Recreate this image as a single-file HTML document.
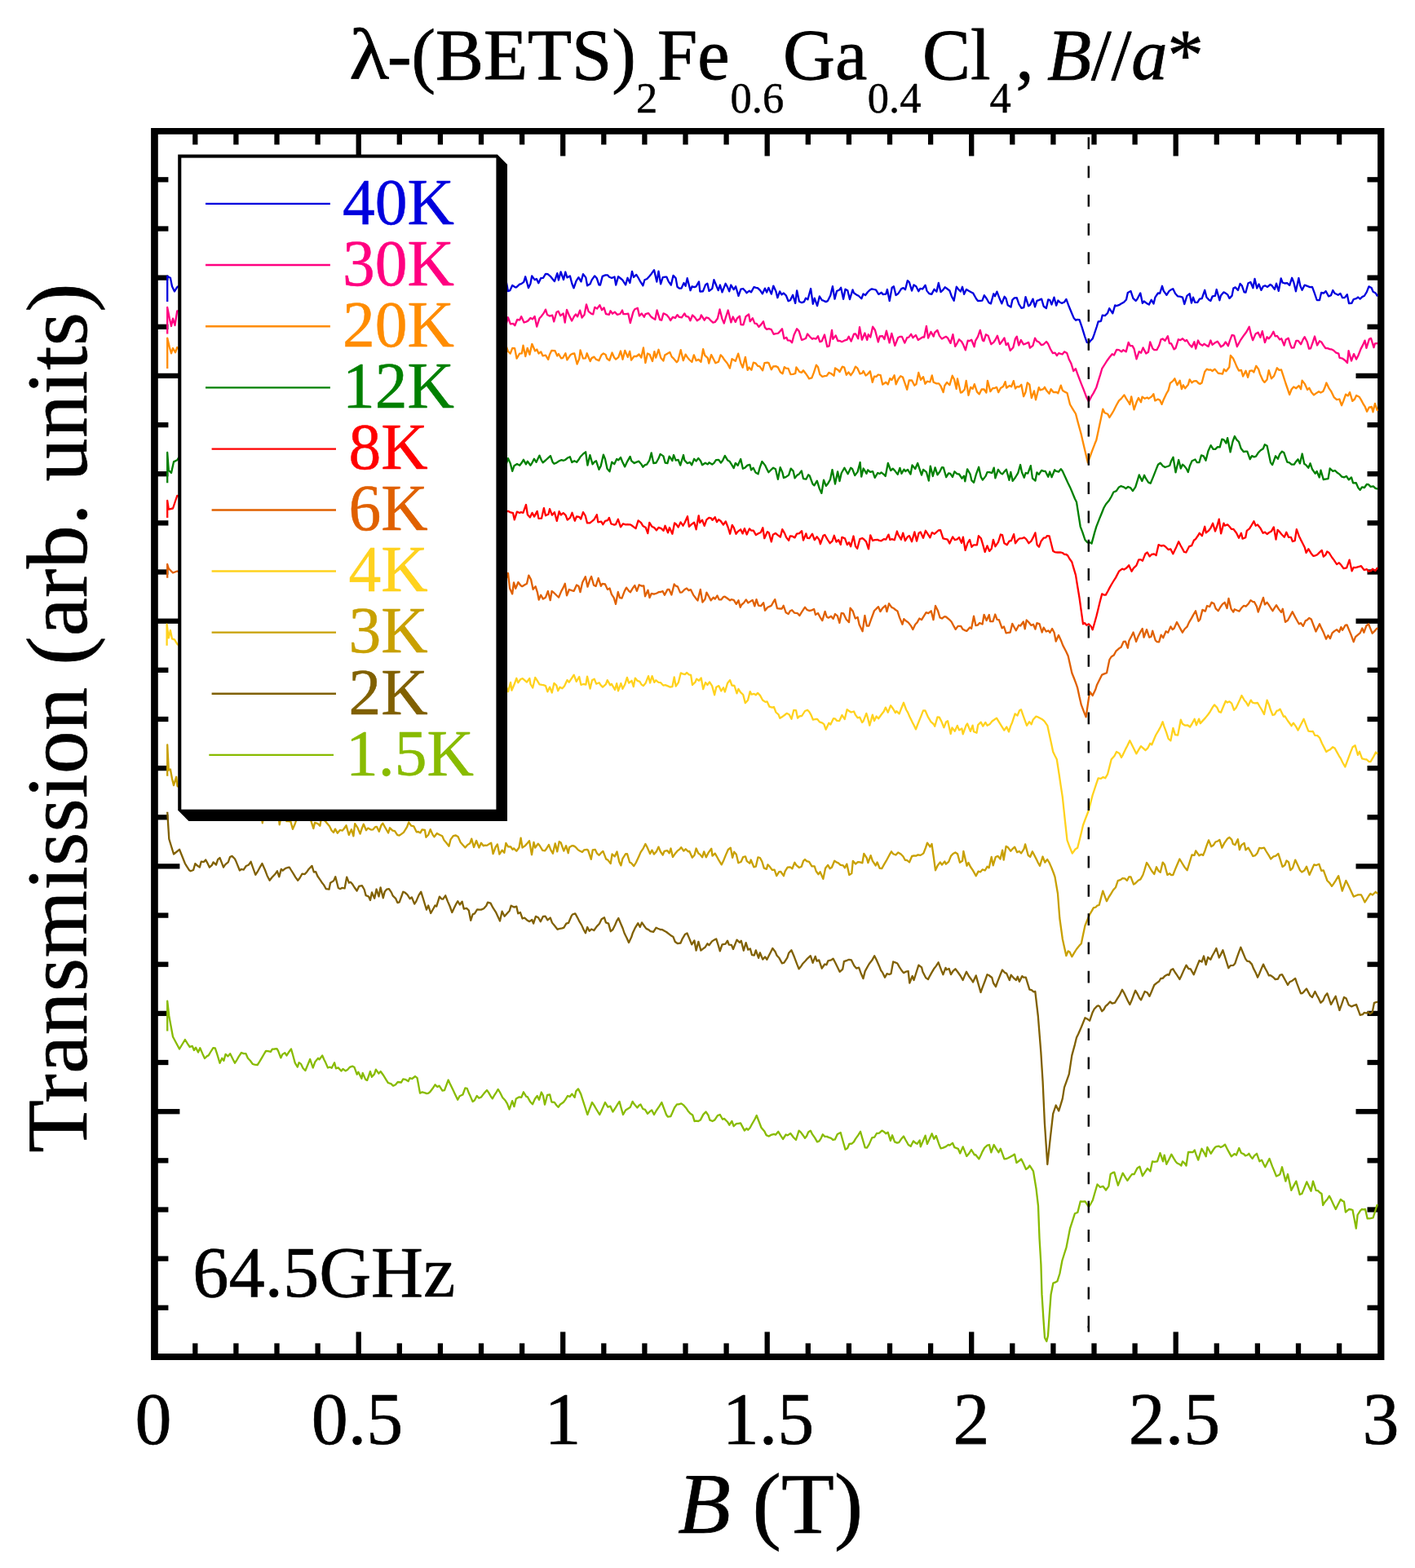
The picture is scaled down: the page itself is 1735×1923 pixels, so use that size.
<!DOCTYPE html>
<html lang="en"><head><meta charset="utf-8"><title>λ-(BETS)2Fe0.6Ga0.4Cl4 transmission</title>
<style>
html,body{margin:0;padding:0;background:#fff;}
body{width:1735px;height:1923px;overflow:hidden;}
svg{display:block;}
text{font-family:"Liberation Serif","Times New Roman",Times,serif;fill:#000;stroke:#000;stroke-width:0.6px;stroke-linejoin:round;}
.i{font-style:italic;}
.tt text{stroke-width:0.8px;}
.tt .sb{stroke-width:0.45px;}
.c{fill:none;stroke-width:2.3;stroke-linejoin:round;stroke-linecap:butt;}
.tk line{stroke:#000;stroke-width:6.3;}
.lg line{stroke-width:2.35;}
.lg text{font-size:79.5px;stroke-width:0.5px;}
.xt text{font-size:90px;text-anchor:middle;}
</style></head><body>
<svg width="1735" height="1923" viewBox="0 0 1735 1923">
<rect x="0" y="0" width="1735" height="1923" fill="#fff"/>
<g class="tk">
<line x1="239.3" y1="163.8" x2="239.3" y2="177.4"/>
<line x1="239.3" y1="1661" x2="239.3" y2="1647.4"/>
<line x1="289.4" y1="163.8" x2="289.4" y2="177.4"/>
<line x1="289.4" y1="1661" x2="289.4" y2="1647.4"/>
<line x1="339.5" y1="163.8" x2="339.5" y2="177.4"/>
<line x1="339.5" y1="1661" x2="339.5" y2="1647.4"/>
<line x1="389.6" y1="163.8" x2="389.6" y2="177.4"/>
<line x1="389.6" y1="1661" x2="389.6" y2="1647.4"/>
<line x1="439.7" y1="163.8" x2="439.7" y2="191.4"/>
<line x1="439.7" y1="1661" x2="439.7" y2="1633.4"/>
<line x1="489.8" y1="163.8" x2="489.8" y2="177.4"/>
<line x1="489.8" y1="1661" x2="489.8" y2="1647.4"/>
<line x1="539.9" y1="163.8" x2="539.9" y2="177.4"/>
<line x1="539.9" y1="1661" x2="539.9" y2="1647.4"/>
<line x1="590" y1="163.8" x2="590" y2="177.4"/>
<line x1="590" y1="1661" x2="590" y2="1647.4"/>
<line x1="640.1" y1="163.8" x2="640.1" y2="177.4"/>
<line x1="640.1" y1="1661" x2="640.1" y2="1647.4"/>
<line x1="690.2" y1="163.8" x2="690.2" y2="191.4"/>
<line x1="690.2" y1="1661" x2="690.2" y2="1633.4"/>
<line x1="740.3" y1="163.8" x2="740.3" y2="177.4"/>
<line x1="740.3" y1="1661" x2="740.3" y2="1647.4"/>
<line x1="790.4" y1="163.8" x2="790.4" y2="177.4"/>
<line x1="790.4" y1="1661" x2="790.4" y2="1647.4"/>
<line x1="840.5" y1="163.8" x2="840.5" y2="177.4"/>
<line x1="840.5" y1="1661" x2="840.5" y2="1647.4"/>
<line x1="890.6" y1="163.8" x2="890.6" y2="177.4"/>
<line x1="890.6" y1="1661" x2="890.6" y2="1647.4"/>
<line x1="940.7" y1="163.8" x2="940.7" y2="191.4"/>
<line x1="940.7" y1="1661" x2="940.7" y2="1633.4"/>
<line x1="990.8" y1="163.8" x2="990.8" y2="177.4"/>
<line x1="990.8" y1="1661" x2="990.8" y2="1647.4"/>
<line x1="1040.9" y1="163.8" x2="1040.9" y2="177.4"/>
<line x1="1040.9" y1="1661" x2="1040.9" y2="1647.4"/>
<line x1="1091" y1="163.8" x2="1091" y2="177.4"/>
<line x1="1091" y1="1661" x2="1091" y2="1647.4"/>
<line x1="1141.1" y1="163.8" x2="1141.1" y2="177.4"/>
<line x1="1141.1" y1="1661" x2="1141.1" y2="1647.4"/>
<line x1="1191.2" y1="163.8" x2="1191.2" y2="191.4"/>
<line x1="1191.2" y1="1661" x2="1191.2" y2="1633.4"/>
<line x1="1241.3" y1="163.8" x2="1241.3" y2="177.4"/>
<line x1="1241.3" y1="1661" x2="1241.3" y2="1647.4"/>
<line x1="1291.4" y1="163.8" x2="1291.4" y2="177.4"/>
<line x1="1291.4" y1="1661" x2="1291.4" y2="1647.4"/>
<line x1="1341.5" y1="163.8" x2="1341.5" y2="177.4"/>
<line x1="1341.5" y1="1661" x2="1341.5" y2="1647.4"/>
<line x1="1391.6" y1="163.8" x2="1391.6" y2="177.4"/>
<line x1="1391.6" y1="1661" x2="1391.6" y2="1647.4"/>
<line x1="1441.7" y1="163.8" x2="1441.7" y2="191.4"/>
<line x1="1441.7" y1="1661" x2="1441.7" y2="1633.4"/>
<line x1="1491.8" y1="163.8" x2="1491.8" y2="177.4"/>
<line x1="1491.8" y1="1661" x2="1491.8" y2="1647.4"/>
<line x1="1541.9" y1="163.8" x2="1541.9" y2="177.4"/>
<line x1="1541.9" y1="1661" x2="1541.9" y2="1647.4"/>
<line x1="1592" y1="163.8" x2="1592" y2="177.4"/>
<line x1="1592" y1="1661" x2="1592" y2="1647.4"/>
<line x1="1642.1" y1="163.8" x2="1642.1" y2="177.4"/>
<line x1="1642.1" y1="1661" x2="1642.1" y2="1647.4"/>
<line x1="192.8" y1="1603.8" x2="206.4" y2="1603.8"/>
<line x1="1690.1" y1="1603.8" x2="1676.5" y2="1603.8"/>
<line x1="192.8" y1="1543.6" x2="206.4" y2="1543.6"/>
<line x1="1690.1" y1="1543.6" x2="1676.5" y2="1543.6"/>
<line x1="192.8" y1="1483.5" x2="206.4" y2="1483.5"/>
<line x1="1690.1" y1="1483.5" x2="1676.5" y2="1483.5"/>
<line x1="192.8" y1="1423.3" x2="206.4" y2="1423.3"/>
<line x1="1690.1" y1="1423.3" x2="1676.5" y2="1423.3"/>
<line x1="192.8" y1="1363.2" x2="220.4" y2="1363.2"/>
<line x1="1690.1" y1="1363.2" x2="1662.5" y2="1363.2"/>
<line x1="192.8" y1="1303" x2="206.4" y2="1303"/>
<line x1="1690.1" y1="1303" x2="1676.5" y2="1303"/>
<line x1="192.8" y1="1242.9" x2="206.4" y2="1242.9"/>
<line x1="1690.1" y1="1242.9" x2="1676.5" y2="1242.9"/>
<line x1="192.8" y1="1182.7" x2="206.4" y2="1182.7"/>
<line x1="1690.1" y1="1182.7" x2="1676.5" y2="1182.7"/>
<line x1="192.8" y1="1122.6" x2="206.4" y2="1122.6"/>
<line x1="1690.1" y1="1122.6" x2="1676.5" y2="1122.6"/>
<line x1="192.8" y1="1062.4" x2="220.4" y2="1062.4"/>
<line x1="1690.1" y1="1062.4" x2="1662.5" y2="1062.4"/>
<line x1="192.8" y1="1002.3" x2="206.4" y2="1002.3"/>
<line x1="1690.1" y1="1002.3" x2="1676.5" y2="1002.3"/>
<line x1="192.8" y1="942.1" x2="206.4" y2="942.1"/>
<line x1="1690.1" y1="942.1" x2="1676.5" y2="942.1"/>
<line x1="192.8" y1="882" x2="206.4" y2="882"/>
<line x1="1690.1" y1="882" x2="1676.5" y2="882"/>
<line x1="192.8" y1="821.8" x2="206.4" y2="821.8"/>
<line x1="1690.1" y1="821.8" x2="1676.5" y2="821.8"/>
<line x1="192.8" y1="761.7" x2="220.4" y2="761.7"/>
<line x1="1690.1" y1="761.7" x2="1662.5" y2="761.7"/>
<line x1="192.8" y1="701.5" x2="206.4" y2="701.5"/>
<line x1="1690.1" y1="701.5" x2="1676.5" y2="701.5"/>
<line x1="192.8" y1="641.4" x2="206.4" y2="641.4"/>
<line x1="1690.1" y1="641.4" x2="1676.5" y2="641.4"/>
<line x1="192.8" y1="581.2" x2="206.4" y2="581.2"/>
<line x1="1690.1" y1="581.2" x2="1676.5" y2="581.2"/>
<line x1="192.8" y1="521.1" x2="206.4" y2="521.1"/>
<line x1="1690.1" y1="521.1" x2="1676.5" y2="521.1"/>
<line x1="192.8" y1="460.9" x2="220.4" y2="460.9"/>
<line x1="1690.1" y1="460.9" x2="1662.5" y2="460.9"/>
<line x1="192.8" y1="400.8" x2="206.4" y2="400.8"/>
<line x1="1690.1" y1="400.8" x2="1676.5" y2="400.8"/>
<line x1="192.8" y1="340.6" x2="206.4" y2="340.6"/>
<line x1="1690.1" y1="340.6" x2="1676.5" y2="340.6"/>
<line x1="192.8" y1="280.5" x2="206.4" y2="280.5"/>
<line x1="1690.1" y1="280.5" x2="1676.5" y2="280.5"/>
<line x1="192.8" y1="220.3" x2="206.4" y2="220.3"/>
<line x1="1690.1" y1="220.3" x2="1676.5" y2="220.3"/>
</g>
<path fill="#000" fill-rule="evenodd" d="M185.1 156.9H1697.4V1668H185.1ZM193.8 164.8H1689.1V1660H193.8Z"/>
<g class="c">
<polyline stroke="#0000DD" points="205.2,370 205.2,338.7 206.8,339.8 208.9,340.8 211,351.2 214,357.4 217.2,352.2 219.2,350.8 222.7,355.1 225.2,351.7 228.5,346.2 230.6,348 233.9,360.8 235.6,352.6 239.2,344.2 241.7,353.2 244,353.4 246.4,353.7 249.3,340.6 253.1,353.6 254.4,348.3 258,349.3 261.1,362.8 263.2,351.3 265.4,359.9 268.7,355.5 271.8,351 273.6,349 276.1,349.6 278.8,347.3 281.8,354.1 285.1,355.1 287.5,347.9 290.9,361.6 292.2,353.2 295.5,356.5 298.2,357.6 301.3,343.3 303.1,355.9 306.4,363.4 308.5,345.3 312.3,361.7 314.8,349.7 317.1,344.8 320.5,349.1 323.2,356.2 326.1,340.3 327.9,354.9 331.2,351.2 333,360.7 336.9,357.2 339.6,353.4 341.5,347.6 345,344.2 346.6,351 349.2,353 351.7,358.4 354.6,355.2 358.2,351.8 360.1,349.6 363.9,354.3 366.4,355.4 369.4,347.8 371.5,350.5 373.8,347.7 377.1,353.6 379.2,354 383,350 384.8,354.6 387,355.9 390,356.9 392.7,349.8 395.4,353.9 398.6,357.6 400.6,358.4 404.2,349.8 406.3,352.2 409.7,349.9 412.2,357 414.9,352.6 417.2,357.5 420.1,348.9 422.2,354 425.2,341.8 427.7,349.1 430.9,352.4 433,351.3 435.7,348.4 438.4,356.3 442.4,361.2 445.1,346 447.8,352.9 450.2,351.2 452.4,356.3 454.8,350.4 457.5,355.9 460.1,362.7 462.9,347.6 465.4,350.1 468.7,351.8 471.8,354.3 474,356.1 477,348.9 479.2,357.6 481.9,352.6 484.6,344 487.8,347.4 490.1,361.6 492.7,354.9 495.4,353.5 499,349.2 501.5,346.7 504,351.8 506.3,353.5 509.1,350.5 511.8,355 514.8,349.9 517.7,349.7 520.7,348.2 523.4,347.9 525.3,350.8 528.8,345 530.4,345.3 533.7,347.1 537,357.5 539.7,346.3 542.5,340.1 545.2,350.9 546.8,345.8 550.1,342.4 552.8,351.2 555.1,352.2 558,353.4 561,354.1 563.3,346.6 565.9,353.7 569.3,350.7 571.7,354.1 573.9,344.7 576.6,349.3 579.7,355.5 582.6,356.7 585.4,347.1 587.6,344.7 590.6,353.4 593.5,346.3 595.5,355.1 598.4,362.1 602,357.8 603.6,345.7 607.2,351.8 608.8,349.2 611.8,358.8 614.5,348.6 617.4,349.1 621,346.8 623,357.1 625.3,356.2 628.2,349.9 631.7,352.3 633.1,352.3 637.1,348.7 639.1,348.1 642.2,345.9 644.2,339.3 648,353.1 650.4,348.1 652.2,338.3 655.6,343.1 657.9,342 660.3,347.3 663.1,341.2 666,340.8 669,335.9 671.6,336.1 674.8,338.8 677,341.5 679.9,345.1 683.3,335.1 684.9,343.5 687.6,333.4 691,343 693.3,333.5 695.4,340.4 698.9,338.4 701.3,347.8 703.5,353.3 706.5,344.6 709.4,340.1 712.5,345.4 715,336.1 718.3,340.4 720.1,350.3 723.6,348.3 725.6,343.4 729.1,338.4 731.8,341.3 734.4,349.3 736,349.5 738.7,338.9 742.3,337.4 745.1,337.4 746.8,339.5 750.1,341 753.5,339.5 755.2,349.5 758.1,339.1 761,341.5 763.3,343.4 767.1,349.4 769.5,340.8 772.4,346.9 775,332.8 777,340 780.2,336.9 782.5,340.5 785.4,345.7 788.4,350.3 790.4,343.2 793.4,342 796.1,339 798.8,335.7 802,331.1 805.3,345.6 807.5,332.6 810.1,348.4 812.7,340.1 815.8,339.6 817.4,339.7 819.8,345.4 822.8,349.5 825.5,337.9 828.6,341.1 830.5,351.8 833.1,353.7 835.5,353.6 838.5,347 840.6,350.8 842.7,341.2 846.5,356.2 848.6,351.3 851.2,352.2 853.6,351.3 857,345.4 858.3,357.5 861.9,357.4 865.1,349.1 867.3,347.6 869.5,356.9 873.3,353.9 875.4,343.1 877.3,347.8 880.7,356.1 882.9,349.5 885.5,358.3 889.6,347.8 891.9,351.9 894.2,357.4 896.3,349.5 899.7,355.1 902.1,351.3 905.5,362.9 908.4,354.6 911.1,354 913.7,356.8 915.6,359.2 918.8,356.7 921,358.4 924.5,352 927,352.9 929.3,353.4 932.3,356.4 934.9,360.3 937.9,353.6 940.1,358.6 942.4,352.9 945.8,360.6 948.3,350.6 951.5,357.6 953.4,365.2 956.1,357.4 958.4,361.4 960.9,359.5 963.8,362.3 966.6,369.3 969,368.3 972.1,361.7 975.2,371.9 977.1,356.3 980,369.8 983.1,371.2 985.9,370.2 988,365.6 990.5,367.3 994.1,354 996.8,372.8 998.7,365.7 1002.1,375.1 1004.8,363.4 1007.8,368.2 1009.7,368.7 1012.6,370.1 1014.9,369.1 1018.3,362.2 1020.9,351.2 1023.5,366.7 1026,357.1 1029.3,355.4 1031.1,352.8 1034.1,366.8 1036.5,354.7 1039.3,356.3 1041.9,367.1 1045.5,355.4 1047,359.3 1050.7,361.9 1052.7,362.8 1056.3,366.3 1058.5,360.5 1061.1,362 1063.9,358.3 1066.5,355.7 1068.9,354.3 1072,355 1074.1,355.6 1077.3,360.9 1080.8,358.8 1082.6,361 1086.3,360.6 1087.9,355 1090.7,369.1 1093.7,352.7 1095.9,351.3 1098.5,362 1101.4,360 1105.2,354.1 1107.6,353.2 1110,355.2 1112.8,344.1 1114.9,346.1 1118,356.5 1120.5,349.4 1123.3,351.3 1126.3,357.2 1128.3,353.9 1131.1,354.5 1134.6,349.8 1136.5,356.6 1139.3,360.1 1142.3,360.9 1145.5,354.8 1148.4,357.7 1150.8,346.9 1153.5,358.1 1156.2,355.7 1158.6,352.3 1161.6,354.3 1164.4,356.5 1166.8,363.4 1169.7,368.8 1172.8,351.7 1174.9,354.4 1177.8,357.6 1180,351.8 1182.1,360.8 1184.9,354.9 1187.5,356.5 1191,358.4 1193.2,359.6 1196.9,366.2 1199,369 1202.1,368.8 1204.4,368.6 1206.8,362.2 1209.9,366.5 1212.5,371.3 1214.9,372.4 1218.3,360.3 1220,363.2 1222.4,357.6 1226.1,367.3 1228.3,372.4 1231.6,363.8 1233.6,366.2 1235.7,374.3 1239.5,376.6 1241.3,367.9 1243.9,365.3 1246.7,365.2 1249.3,372.8 1252.5,377.9 1255.3,377.2 1257.5,364.1 1261.1,375.3 1263,374 1266.5,366.6 1269,376.3 1271.5,368.9 1273.7,368.1 1277.1,366.6 1279.7,375.8 1282.9,378 1285.3,367.3 1287.3,368.1 1289.5,373.5 1292.5,364.7 1295.2,374.7 1297.4,368.5 1300,371 1302.3,371.8 1305,370.5 1307.4,366.9 1310.7,375.8 1314.4,384.8 1316.6,389.9 1319.1,392.8 1320.6,391.9 1323.5,392.2 1326.6,401.1 1330.2,412.8 1332.7,419.9 1335.3,420.3 1337.6,417.3 1339.7,415.3 1341.6,410.2 1344.8,400.5 1346.6,394.5 1350,393.8 1351.7,386.7 1354.8,387.2 1358,384.2 1360.2,378.2 1364.3,384.4 1367.2,374.4 1368.8,375.2 1372,374.2 1374.6,372.6 1377.9,370.8 1381,367.4 1382.8,358.9 1386.5,357 1389.4,365.9 1392.6,368.9 1394.3,367 1398.3,359.4 1400.9,371.9 1402.8,369.5 1406,371.9 1408.9,373.6 1411.7,367.7 1414.5,372.5 1416.4,364.7 1419.9,359.5 1422.1,359.8 1425,350.8 1426.8,356.9 1430.4,361.8 1433.6,356.9 1436.2,355.1 1438.3,354.2 1441.1,360 1444,363.3 1446.7,363.7 1450,364.6 1452.3,373 1455.4,362.8 1458.7,360.2 1460.9,371.6 1463,364.6 1465.2,370.9 1468.3,370.9 1470.9,366.7 1473.7,366.1 1477.2,355.8 1479.4,364.4 1482.3,367.8 1484.4,369 1486.7,363.3 1489.9,362.9 1491.7,355 1495.4,368.3 1496.9,362.5 1500.3,358.4 1502.1,359.1 1505.3,361.4 1507.5,365.9 1510.6,362.6 1512.3,353.6 1514.7,352.4 1518,356 1520.6,347.9 1522.9,350.6 1525.6,358.4 1527.4,358.7 1530.5,347.2 1533.4,346 1536.4,353.2 1538.5,341.9 1541.2,353.5 1543.6,348.5 1546.4,355.9 1549,351 1551.2,350.3 1554.1,351.9 1557.6,349 1559.3,350 1562.9,354.9 1565,347.7 1567.8,356.9 1570.7,341.5 1572.6,346.7 1575.3,347.5 1578.3,347.1 1581.2,349.9 1584.1,340.8 1586.3,346.3 1588.9,357.3 1592.4,341 1594.3,350.5 1596.6,355.7 1599.7,349.6 1603.1,350.9 1606.1,352.1 1609,351.9 1611.4,358.4 1614.7,368 1618,368.1 1620.1,359 1623.2,359.5 1625.6,357 1629.1,363.4 1632,362.2 1634.3,356 1636.7,359.8 1640.7,361.8 1643.5,359.9 1646.1,365.2 1648.7,365.1 1651.8,361.2 1654,372 1657.3,371.9 1659.7,367 1663,366.1 1665.2,364.5 1667.6,366.6 1670.5,363.9 1672.8,363 1675.8,358.1 1678.4,351.4 1681.6,353 1683.6,357.8 1686.8,359.5 1689,363.4"/>
<polyline stroke="#FF0080" points="205.2,409.4 205.2,377 207.9,390.7 210,400 212,390.7 214.5,399 217.2,381.3 220.2,381.3 222.2,384.7 225.9,380.5 227.3,378.6 231.2,383.4 234.2,382.9 235.4,376.6 239.3,382.1 241,386.4 244.7,385.5 246.3,378 250,381 251.7,373.8 254.7,387.4 257.1,381.9 260.8,384.1 263.6,371.5 266.2,382.3 269.1,371.7 271.3,385.7 274,377.4 276.2,386.6 279,379.1 281.4,378.3 285.5,391.2 287.3,382.3 290.7,384 292.3,384.2 295.5,389.7 298,372.6 300.4,389.6 303.5,389.4 306.3,389.6 309.2,387.3 311.5,377.6 315.3,375.3 317.3,385.6 320.7,379.3 323.3,378 325.4,386.1 327.4,387 331.2,387.6 332.9,384 335.9,383 339.5,378.3 341.4,381.9 344.7,378.8 347.2,387.6 349.5,386.8 352.7,389.9 355.7,381.3 357.8,387.3 360.5,379.9 363.7,384.8 365.3,386.6 368,381.9 371.6,391.2 373.7,383.6 377.4,387.9 379.6,394.5 382.5,384.2 385.4,386.9 387.6,396.9 389.7,381.3 393.2,387.4 396.5,385.9 397.8,385.1 401.5,395.4 404.6,376.7 406.6,388.6 409.4,381.9 411.4,382 414.2,381.8 416.8,381.1 420.7,386.9 423.1,388.8 425.6,384.5 427.5,378.8 431.4,380.8 434.3,388.7 436.6,388 439.1,386 442,388.9 443.8,385.5 447.7,386.8 450.2,389.4 452,389.1 455.5,385.5 458,388.4 461,386.1 463.6,392.2 465.7,391.4 469.1,392.3 471.7,394.7 474.2,390.1 477.4,383.3 479.9,378.4 481.7,389 484.9,377.4 487.5,380.4 491,392.7 492.6,385.2 495.1,382.2 498.6,386 501.4,393.2 503.6,389 507.2,386.2 509.4,383.1 511.4,383.6 514.1,397.4 517.8,382.4 520.5,379.2 523,386.5 525,386.4 528.5,379.3 531.1,390.7 533.1,385.3 536.4,381.5 539.6,387.2 541.6,390.5 544.8,396.9 546.5,396.2 550.1,397 552.3,392.3 555.6,389.6 557.5,392 561.1,390 564.2,385.5 566.1,392.4 569.5,391.5 571,390.5 574.7,394.6 576.8,392 579.7,396.4 583.2,390.5 585.7,388.4 588.5,389.8 590.1,392.9 593,385 595.7,390 598.8,386.4 602.1,380.7 604,397.4 606.5,388.4 608.9,396.6 612.5,394.1 615.6,386.1 617,397.1 620.5,398.2 623,389.3 625.9,397.4 629.2,396.8 631.3,399.2 634.2,392 637.2,392.4 639.2,388.1 642.5,395.5 645.1,394.6 647.2,393.6 650.6,389.9 653.1,391.4 655.6,387.9 658.2,400.6 661.4,390.6 663.5,388.2 666.8,383.9 669,379.6 671,386 673.9,387.6 677.3,386.7 679.2,394.4 682.5,382.7 684.6,381.8 687.2,387.2 690.7,384.5 692.7,395.5 695,379.9 698,387.1 701.1,393.5 704.1,387.8 706,385.4 708.1,388.4 711.1,380.6 713.6,389.6 716.5,386.1 719,373.3 721.5,381.8 725.3,384.9 727.2,385.4 729.3,376.8 732.1,378.6 735.4,374.1 738,380.2 740.6,377.4 743,385.2 746.9,385.8 748.5,381.3 751.1,384.7 753.8,382.6 756.9,385.9 760.3,385 763,380.5 764.3,385.1 767.4,385.1 770.3,384.7 772.8,396.1 776.4,382.6 778.3,379.3 781.8,377.8 784,387.4 786.7,384.4 789.8,388.7 791.5,385.1 795.1,384.1 798,388.1 800.3,390 803.3,391.8 805.6,380.5 809.1,392.1 811.2,392.6 813.5,384.3 817.5,386.3 820.2,389.5 822.1,393 824.9,388.9 827.9,390 830.5,386.1 832.9,388.9 835.9,389.4 839.3,384.4 841.2,387.9 844.2,388.6 846.4,393.3 849.1,386.5 851.9,389.2 854.7,393.2 858.4,390.7 859.8,386.4 863.7,392.7 865.9,389.4 868.9,390.2 871.8,393.4 874.3,395.7 876.7,395 879.9,390.5 882.5,379.4 885.4,390.9 887.8,396.5 890,388.8 892.7,380.5 896.4,395.4 898.7,388.5 901.8,394.9 903.9,390.3 906.9,387.7 908.5,398.2 911.4,398.3 914.5,388.2 918.1,385.5 919.7,394.2 922.8,390.1 925.4,396.6 927.7,396.9 930.4,400.9 933.3,397.9 936,394.2 937.9,401.6 940.1,403.9 942.7,403.2 945.8,404.2 948.6,409.8 951.4,409.1 953.8,408.8 955.4,407.5 959,403.3 961.4,415.3 964.4,413.9 965.8,417.3 968.9,417.7 971.1,420.2 973.7,410.4 977.1,403.3 979.7,406.1 983,416.8 985,416.3 988,415 990.1,409.5 993.1,413 995.9,415.8 997.2,414.9 1000.6,415.6 1003,412.3 1005.3,419.2 1007.7,418.3 1011,410.5 1014.3,425.2 1016.7,424.4 1020,404.9 1021.3,415.9 1024.7,411.4 1027.3,418 1029.8,418 1032.2,419.2 1035.3,417.7 1038.6,416.7 1040.7,412.7 1043.6,418.6 1047,409.6 1049,409.3 1052.2,415.3 1054,401.2 1056.9,416.7 1060.4,408.5 1063.2,417 1064.7,410.2 1067.3,413.5 1070.1,400.7 1073,405 1076.8,419.4 1078.7,412.5 1082.1,412.1 1084.4,416 1086.9,405.7 1090.6,420.4 1093.3,408.8 1095.3,416.1 1097.3,423.9 1101.2,414 1103.8,412.8 1105.9,412.9 1109.3,420.6 1112.2,414.2 1114.3,413.7 1117.1,409.8 1119.4,414.2 1122.9,411 1125.8,417 1127.3,415.9 1131.2,413.5 1133.2,413.5 1135.9,399.9 1138.1,414.5 1141.4,406.9 1144.7,412.6 1146.1,407.8 1149.4,405 1151.9,411.9 1154.9,415.6 1156.7,414.5 1159.8,412.8 1162,414.4 1165.5,420.9 1168.4,410.1 1171.2,424.9 1172.9,422.2 1176,416.3 1179,418.9 1181.1,422.6 1183.8,429.4 1186.7,417.7 1188.5,418.2 1191.2,416.8 1194.6,425.3 1196,418.1 1199,412.9 1201.8,404.9 1205,417.6 1206.3,418.3 1208.9,410.3 1211.6,411.7 1215.3,422.2 1218.3,419.9 1220.6,416.5 1222.9,411.7 1226,422 1227.9,419.6 1231.5,414.5 1233.6,423.1 1235.9,420.8 1238.7,429.9 1242.3,426.2 1244.9,415.4 1246.8,412.8 1249.2,423.5 1251.9,417 1255,422.3 1258,421.3 1261.2,419.9 1262.9,426.6 1266.5,423.8 1269,414.7 1271.3,418.4 1273.9,419.5 1276.9,423.2 1279.7,422.3 1283,419 1285,421.4 1287.9,428 1290.9,433.1 1293.6,432.6 1295.9,436 1298.1,433.1 1302.6,434.5 1305,431.4 1308.2,433 1310.6,440.2 1313.5,446.1 1316.3,455.1 1318.9,452.2 1321.3,458.8 1322.9,463.1 1325.8,470.6 1328.8,478.1 1332,486.7 1335,492.5 1338.7,485.3 1340.6,482.4 1344.3,475.2 1346.7,467.2 1349,459.9 1351.2,452.2 1354.8,446.5 1357.5,442.2 1360.4,438.3 1363.7,434.3 1366,435.5 1369.2,428.8 1372,429.1 1375.1,431.4 1377.4,429.2 1380.7,431.4 1383.7,419.9 1385.7,424 1388.5,424.1 1390.6,427.9 1393.5,440.3 1396.7,431.2 1399.1,432.7 1401.6,426.4 1405.2,433.5 1408,431.7 1410.2,419.4 1413.3,427.3 1415.3,429.1 1418.5,429 1421.2,423.8 1423.5,416.4 1425.6,415.5 1428.5,417.9 1431.9,412.2 1433.9,421 1436.2,421.4 1439.6,428.4 1441.5,427 1444.8,416.3 1447.4,417.1 1450,415.3 1453.3,418.4 1455.1,417 1458.4,422.5 1461.4,425.6 1464.4,419.3 1466.2,427.7 1469,417.5 1471.1,421.7 1474.5,423.7 1476.4,421.7 1479.7,423.9 1481.7,424.9 1484.4,417.5 1486.5,422.9 1489.5,420.6 1492.9,418.8 1494.9,421.7 1497,425.3 1500.3,423.2 1502.7,419.4 1505.9,424.2 1508,417.6 1510.6,410.8 1513.2,411.6 1516.9,425.1 1519,421 1521.3,416.8 1525.2,411.2 1528.2,407.2 1531.7,400.8 1534.2,411.2 1536.1,417.2 1539.5,409.6 1542.6,407.7 1545.4,413.9 1547.8,406.2 1550.9,420 1553.6,413.3 1555.8,415.3 1558.7,411.8 1561.4,406.7 1563.6,412.4 1565.9,411.9 1569.1,416.4 1571.2,415.2 1574.5,423.6 1576.7,416.4 1579.7,414.7 1582.2,422.9 1583.7,426.6 1586.5,426.3 1589.3,417.9 1591.8,417.9 1595.1,422.2 1597.7,416.4 1599.7,413.2 1602.9,419.6 1605,427.6 1607,427.3 1609.9,419.1 1612,412.5 1615.1,423.5 1618,418.2 1620.2,419.4 1622.8,423.6 1625.3,427 1627.7,427.1 1631.1,428.4 1632.8,428.4 1635.2,429.7 1637.8,432.3 1641.3,433.6 1642.5,438.8 1645.8,439.5 1649.3,442 1652,445.1 1653.6,430.2 1657,442.5 1660,434.1 1663,440.6 1665.4,436 1668.7,427.6 1671.2,422.9 1673.5,417.6 1675.4,426.8 1678.9,415.8 1681,414.9 1684.5,426.1 1685.8,421.4 1689,421"/>
<polyline stroke="#FF8C00" points="205.2,452 205.2,414.6 207.9,426 210,433.3 212,427 215,432.3 217.2,426 220.6,429.2 222.7,428.4 225.5,435.8 228.2,422 230.1,421 233.9,426.3 236.7,423.3 239.5,428.1 241.3,419.4 244.5,437.4 247.6,424.4 249.9,430.7 251.8,419.1 254.5,426.9 258,419.9 260.5,416.8 262.7,420.3 265.3,418.7 269.2,419.3 271.4,422.7 274.3,423.9 276.7,427.9 279.1,423.9 282.3,430.7 285.4,424.8 287.2,427.3 289.9,426.2 293.3,424.8 296,429.1 298.2,423.5 300.8,427.5 303.6,421.4 306.8,428.2 308.5,424.5 311.8,430.9 315,423.4 316.6,428.2 320.7,432 323,421.7 324.9,431.6 328.3,429.4 331,417.7 333.8,430.4 336.5,425.4 339,427.9 342.2,426.7 343.9,418.2 346.5,429.7 349.4,422.8 352.4,416.8 355.6,419.8 357.7,423.9 360.1,435.3 363.2,431.6 365.7,427.1 368.4,426.7 371.2,427.3 374.3,429.1 377.5,421.3 380,428.2 382.9,426.5 384.7,424.8 387.4,434.6 390.7,428.5 392.5,435.3 396.1,430.2 398.4,436.8 401.4,435 403.8,433.6 407.2,436.8 409.9,431.4 412.6,421 415.3,425.9 417.7,429.9 419.9,425.9 422.3,433.9 425.4,430.3 428.1,421.7 430.2,426.8 433.7,429.4 436.5,429.7 438.8,426.6 441.5,428.5 444.8,426.3 447.3,426.1 450.6,427.8 452.8,431 455.8,418.1 458.7,430.2 460.6,424.1 463.5,429.2 466.7,427.7 469.5,429.8 471.9,434.1 474.3,424.5 477,428.6 478.9,435.2 481.8,438.7 485.3,433.2 487,429.2 490.1,432.3 493.2,429.9 496.3,424.4 498.7,432.8 500.7,436.7 503.4,426.4 507.2,427.3 509.2,419.4 511.9,426.3 514.7,434.5 517.5,436 520.8,427.4 523.1,424.7 525.9,437.3 529,427.8 530.8,431.6 533.3,431.5 536.2,426.1 539.8,431 541.9,428.8 544.4,428.8 547.4,433 549.7,425.2 552.4,425.2 555.8,428.3 557.9,427.3 561,441.6 563.6,437.4 565.7,431.7 568.6,440.4 571.7,421.1 573.7,435.4 577,430.4 579.8,434.6 581.7,433.1 585.1,429.8 587.7,430.4 590.2,425.2 593.4,430.5 595.8,427.1 598.5,427 600.8,429.9 604.6,428.7 606.3,431.7 609.8,428.8 612.5,431.9 614.8,429.9 617.8,432.2 620.8,424.9 623,431 625.7,433.6 628.3,426.8 631.1,427.1 633.6,439.7 637,433.7 639.9,433.3 641.5,423.7 644.3,437.1 646.7,426.8 649.5,434.8 652.3,421.8 656.1,430.5 658.3,428.5 660.5,433.6 663.3,431.4 665.6,436.4 669,435.6 672.2,440.9 673.9,435 676.4,429.8 680.5,430.2 683.3,436.5 684.9,434 688.1,439.4 690.1,439 693.4,433.2 695.4,441.4 699.4,435.3 701.6,434 704.3,433.5 707.6,446.5 710.3,439.9 711.6,429.5 715,439.7 717.9,439.4 719.7,433.3 723.7,443.1 725.5,439.1 728.5,437.6 730.7,440.6 734.4,442.2 737.4,435.4 739.9,433.5 742.6,434.9 744.1,439.5 747.3,442.1 750.5,432.5 753.1,438.5 755.1,440.6 758.3,438.1 761,430.5 763.5,440.8 766.3,429.9 769.8,438 772.2,430.9 774.1,441.7 777.5,436.8 780.5,437 783.5,434.5 786.3,438.6 788.9,426.4 791.4,445.1 794,433.5 796.6,434.7 800,443 802.4,431.1 804.2,438.7 807.5,428.8 810.2,438.7 813.4,442.5 815.2,435.6 818.7,433.5 821.3,431.9 823.7,437.6 826.2,439.9 829.8,444.2 831.3,442.5 834.7,429.2 837.8,442.2 840.6,434.6 842.6,437.9 845.1,441 848.4,444 850.8,435.3 853.6,442.3 856.6,440.9 859.5,443.9 862.1,428.1 864.1,435.6 867.8,439.1 869.2,445.6 872.1,435.1 875.7,442 877.3,445.3 881,443.7 883.6,435.4 886,437.8 888.4,441.6 891.9,445.7 894.9,451.6 897.5,440.2 899.7,441.5 901.8,442.8 905.2,433.7 908.3,445.4 910.7,450.8 913.9,437.8 916.6,453.9 918.4,450.5 921.4,453.7 923.8,444.7 926.3,445.3 929.1,448.8 931.5,449.4 935.1,454.4 937.4,445.2 941,444.6 942.5,445 945.8,453.3 948,449.5 951.2,449.1 953.8,450.4 956.8,456.2 959.6,458.2 961.8,450.1 963.8,451.7 966.5,451.8 969.4,459.2 972.4,458.9 975.2,458 976.4,450.5 980.4,456.1 983.1,456.8 985,454.3 988,458.2 990.4,461.7 992,464.3 995.4,463.3 997.9,456.9 1000.9,447.7 1003,450.3 1005.3,459.2 1008.3,462 1011.2,461.1 1013.7,460.9 1016.4,457 1019.2,458.3 1022.6,460.7 1024,451.5 1027.9,454 1029.5,456.1 1032.9,449.6 1035.2,450.5 1037.8,459.7 1040.4,456.4 1043.1,460.2 1045.9,456.4 1049,449.6 1051.4,451.7 1054.5,458.5 1057.1,457.7 1058.6,455 1061.5,460.5 1063.7,459.1 1066.9,455.3 1069.7,468.8 1072,461.6 1074.5,461.9 1076.8,459.5 1079.7,460.2 1082.2,471.6 1086.2,468.7 1088.8,471.5 1091.2,464.1 1093.5,466 1096.6,460.3 1098.6,471.3 1101.5,464.8 1104.3,461.3 1106.9,462.5 1109.4,469.6 1112.2,477.8 1114.7,466.5 1118,466.4 1121.3,472.7 1123.5,471 1126.3,457 1129,465.8 1132,462.1 1134.4,470.7 1136.8,467.7 1140.3,468.5 1142.8,460.4 1144.6,468.8 1148.3,470.4 1151.2,470.3 1153.6,473.7 1156.6,481.1 1158.3,473 1161.1,469 1164.4,472.2 1167.7,460.7 1170,465.2 1172.7,476.9 1174,464.4 1177.9,481.5 1179.5,481.2 1182.8,477.5 1184.7,466.9 1187.5,484.8 1190.2,474.9 1192.7,476.9 1194.8,471.2 1198,480.6 1200.7,483.4 1203.6,477.4 1206.6,477.5 1209.4,481.5 1210.9,466.8 1214.4,480.1 1217.2,476.1 1219,476.2 1222,474.9 1224.2,481.2 1226.9,476 1230,474.1 1232.6,468.1 1234.1,475.7 1237.9,472.9 1240.2,474.2 1242.8,467.2 1245,476.5 1247,474.2 1249.6,474.5 1252.3,471.8 1255.1,486.2 1257.5,481 1259.8,469.3 1262.3,471.5 1264.8,488.1 1268,479.4 1270,490.3 1273.8,475.1 1275.5,478.4 1279.4,477.1 1280.9,474.8 1283.3,479.1 1286.5,482.8 1288.7,477.3 1291.6,481 1295.2,480.8 1297.3,482.3 1300.8,472.7 1302.8,478.7 1305.2,480.4 1308.5,482 1312,496 1314.6,500.4 1316.1,502.8 1319,507.5 1321.3,516.4 1323.7,525.3 1325.8,532.9 1327.9,542.3 1331.8,558.7 1333.9,567.4 1337.6,557.2 1339.7,551.3 1342.4,544.3 1344.3,539.8 1346.9,527.5 1350.2,512 1352.3,501.7 1354.5,506.2 1358.2,507.7 1360.4,512 1363.8,506.6 1365.6,503.5 1368.7,497.3 1372,491.4 1374.8,488.9 1378.4,484.4 1381.1,489.1 1383.6,492.8 1385.3,496 1387.2,486.3 1390.5,502.3 1393.7,492.8 1396,488 1399,493.3 1400.5,486.7 1403.7,488.8 1406.8,487.5 1408.3,488.9 1412.2,486.3 1414.4,483.3 1416.3,491.4 1419.8,489.6 1422.2,490.8 1424.5,495.9 1426.9,489.7 1430.2,482.8 1432.6,478.6 1434.9,469.8 1438.3,467.1 1440.3,464.3 1443.5,472.2 1446.7,466.8 1448.9,477.2 1450.8,472.3 1453.1,476.2 1456.9,471.8 1458.7,465.3 1461.4,469.3 1463.9,467.3 1467,467.2 1469.7,470.1 1471.6,470.8 1473.6,469.5 1477.2,456 1479.7,452.6 1482.2,453.7 1484.4,453.3 1486.5,455 1489.5,452.6 1493.8,457.9 1496,458 1499,458.7 1500.8,452.8 1503.4,455.3 1507.3,450.2 1508.9,436 1512,439.5 1514,443.9 1516.3,449.4 1519,454.5 1522,454 1524.1,461.5 1527.5,454.7 1530.1,462.8 1532.3,455 1535.4,454.4 1537.3,456.6 1540.2,448.8 1543.2,452.9 1544.9,458.6 1548.3,466.3 1550.5,468.9 1553.6,465.4 1555.7,454.1 1559,464.3 1562.1,461.1 1565.9,451.2 1568.4,454 1571,453.3 1573.3,460.3 1576.4,470 1579,477.5 1581.1,484 1583.6,477.5 1586.2,474.4 1589.3,476.2 1592.6,473 1595.1,477.2 1596.6,466.7 1599.7,470.6 1603.1,478 1605.3,475.8 1608,480.9 1611,484.4 1613.3,482.6 1617,480.2 1619.4,481.6 1622.3,480 1624.2,475.8 1626.4,469.5 1629.7,476.4 1632,479.6 1635.6,487.1 1639,490.2 1642.3,489.5 1645,497.2 1647.3,491.6 1650.1,483.7 1652.9,485.4 1655,481.1 1658.3,491.8 1661,489.5 1663.1,485 1666.6,486.7 1668.8,490.1 1671.6,495.5 1673.5,498.3 1676.1,504.8 1678.6,499.7 1681.8,498.9 1683.5,505.3 1685.9,494.9 1689,504"/>
<polyline stroke="#008000" points="205.2,592.3 205.2,555 206.8,576.8 210,580 213,566.4 217.2,564.3 219.2,561.2 223.2,565.2 226,559.8 227.3,556.7 230.9,570 232.7,560.4 236.7,564.2 239.5,568.9 242.1,556.7 243.7,567.6 246.6,568 250.2,562 251.8,561.7 254.8,566.9 257.8,561.2 260.4,567 263.9,560.2 266.5,569.6 268.2,561.4 271.3,573.2 273.7,561.8 276.8,566.3 279.6,563.7 282.7,569.9 284.1,570.4 287.8,558.4 289.7,554.8 293.2,567.8 295,560.7 299,564.4 300.6,564.6 303.9,556.9 307,563.1 309.4,571.8 311.2,563.1 313.9,573.5 317.8,569.9 319.9,565.3 323.1,556.7 325.6,576.8 327.5,558.3 330.2,565.5 333.3,562.3 335.6,562.3 338.3,562.5 341.2,561.1 344.3,568.5 347.7,569.6 349.5,569.4 353.1,563.9 355.5,564.1 357.6,567.9 361,568.5 363.3,565.3 365.9,567.6 368.4,555.3 370.9,569.4 374.6,565.7 376.6,565 379.3,570.6 382.3,563.7 385.6,569.4 387.9,576.2 390,571 393.4,574.7 395.2,569.6 397.9,566.8 401.4,561.3 403.9,563 407.2,568.6 409.1,570 411.8,567.8 415,563.8 418.1,568 420.8,570.8 422.4,568 424.9,566.2 427.8,565.9 430.9,566 434.3,566 436.2,568.5 439,568.6 442.1,565.2 445.1,571.8 446.5,560.8 449.6,565.3 453,564.6 455.2,567 457.7,562.5 460.2,570.5 463.8,561.9 465.5,570.2 468.6,567.8 472,572 474.9,568.4 476.5,572.9 479,568.7 482,566.3 484.4,560.5 487.1,565.8 491,567.3 493.7,565.7 496,565.6 498.4,569.5 501.3,574.7 503.8,557.1 506.7,571.2 510,576.6 512.6,568.2 514.5,573.7 518.2,571.8 519.7,565.9 522.5,571.4 525.4,564.5 528.6,560.8 531.7,570.2 533.8,569.2 536.3,576.9 538.4,571.3 541.6,570.5 544.9,572.9 547.8,567.8 549.5,563.8 553,562.8 555,568.5 557.4,564.7 561.2,570.4 563.2,571.8 566.7,567.7 569.3,570.7 570.9,579 574.4,570.5 576.8,569.9 579.8,574.5 581.8,564.9 584.4,570.4 587.3,564.7 590.9,565.7 592.7,571.6 595.2,565.6 599,566 601.2,577.6 604.3,559.5 607.2,572.2 609.3,568 612,578.6 614.2,570.1 617.9,563.7 620.2,570.8 623,562.1 625.7,568.1 628.2,577.8 630.4,571.3 634,569.1 637.2,570.8 639.5,567.8 641.9,563.8 644.9,569.4 646.8,565.8 650.5,570.7 652,568.4 654.9,562.7 657.6,566.8 661.5,558.6 663.9,564.5 665.7,567.3 669,564.5 672.4,561.3 674.9,559 677.6,566.7 679.4,568.8 682.2,567.6 685.7,565.2 688.5,564.1 691.1,564.8 693,564 695.6,561.8 698.9,560.3 701.3,567 704.2,565.2 707.2,566.8 710.2,562.7 711.8,560 715,556.7 718.1,554.3 720.4,570.7 723.4,558.1 726.6,569.4 728.9,566.5 731,565.3 734.5,575.8 736.7,571.4 739.9,557.6 742,563 744.5,574.8 747.5,578.3 750.2,566.7 753.2,569.2 756.2,562.9 758.4,564.2 761,561 763,566 766.1,572.4 769.4,565.6 772.6,559.9 774.2,565.2 777.7,568 779.5,567.1 783.3,565.7 786.1,568.9 788.3,572.7 791,570.1 793.1,569.6 796.4,564.3 798.7,555.4 801.3,568 804.6,567.5 807.5,562.3 809.6,556.9 813.4,559.4 815.7,567.7 818.4,568.2 820.7,559.6 824.4,565 826,558 828.6,564.6 831.6,563.9 834.2,570.6 838,558 839.3,564.4 842.8,568.2 845.9,566.9 848.2,570.4 851.1,562.8 853.6,565.6 856.3,561.9 859,565.3 861.1,570.3 864.8,567.7 867.9,569.4 869.5,567.3 873.2,569.5 875.3,568.1 877.9,564.2 881.2,563.8 883.9,567.6 886.1,564.7 888.8,558.9 892.3,564.6 894.8,566.1 897,569.7 899.7,574.1 901.8,567.9 904.7,570.9 908.2,563 910.9,574.8 913.4,573.7 916.5,570.7 919.4,569.9 921.1,576.4 923.6,573.8 926.5,579.5 929.6,581.3 931.7,573.4 934.4,566 938.3,570.9 940.4,575.4 942.4,579.2 945.8,575.8 948.1,573.7 950.9,575.3 953.9,587.8 956.7,573.1 959.5,579.8 960.9,586 963.4,585.1 967.1,582.6 969.7,574.6 972.6,577.6 974.6,586.4 977.5,582.6 979.3,581.9 982.8,577.5 985,587.1 988.4,587.7 991.2,582.3 992.7,583.5 996.5,593.7 998.4,595.4 1001.8,589.7 1004.9,599.6 1007.4,604.9 1010,588.6 1012.8,595.9 1015.4,592.7 1018,588.2 1020.5,576.1 1024,593.6 1027.1,578.3 1029.5,590.1 1031.7,580.2 1035.4,573.7 1037.6,577.8 1039.6,581.3 1043.2,573.7 1045.1,575.2 1048.2,583.1 1051.6,578.6 1054.6,567 1056.2,584.6 1058.7,574.5 1062.5,580.9 1064.1,576.4 1067,578.8 1070.1,578.1 1072.7,585.8 1076.2,580 1078.8,581 1080.6,579.4 1083.7,581.8 1085.7,584 1088.8,568 1092.2,577 1094.9,574.7 1097.1,577.1 1100.7,581.9 1103.4,573.9 1105.4,580.8 1108.5,575.7 1110.3,578 1113,575.9 1116.5,581.6 1118.5,570.5 1122.2,575 1125.2,568 1128,576.7 1130,582.6 1132.1,575.9 1136,579.2 1138.8,589.5 1140.8,571.6 1143.8,584 1146.6,573.3 1149.5,582.3 1152.3,578.5 1155,573.1 1156.8,573.4 1160.2,585.2 1163.1,580.3 1165.3,580.9 1167.9,585 1170.4,578.3 1173.5,581.1 1176,581.5 1179.4,586.7 1181.9,583.6 1183.3,590.3 1186.1,575.3 1189.6,581.5 1191.3,589.1 1194.1,591.8 1197,581.3 1200.1,572.8 1202.8,585 1204.9,588.6 1208.6,583.9 1210.5,579.1 1213.2,579.2 1216.3,580.1 1218.7,573.6 1220.4,586.3 1223.9,575.9 1226.7,579.9 1229.2,581.4 1231.4,578.5 1233.9,575.7 1237.4,588.8 1239.3,579 1241.7,589.9 1245,585.5 1248.2,580.2 1251.1,570 1252.9,579 1255.8,585.7 1257.6,580 1260.3,580.6 1263.8,571.1 1266,586.7 1269.5,589.5 1271.4,579.4 1273.8,581.9 1277.1,576.9 1279.7,577.9 1281.8,577.9 1285.2,584.8 1287.2,578.5 1289.5,585.2 1293.2,576.2 1294.6,577.7 1298,578.7 1300.8,575.1 1302.8,577.8 1306,584.7 1309.2,591.8 1312,597.4 1314.5,603.2 1318,611.8 1320,615.8 1322.6,632.4 1324.7,645.8 1327.3,652.6 1330.4,662 1333.3,665.3 1335.8,665.1 1338.5,666.6 1342,653.6 1344.3,645.8 1347.9,636.7 1350.5,630.2 1353.5,622.8 1356.1,618.2 1360.1,613.4 1362.7,609 1365.4,603.5 1368.8,602.1 1372,597.4 1374.3,596.2 1378.1,597.4 1380.4,599.2 1383.2,597 1386.3,598.4 1388.9,602.1 1392.2,597.4 1394.3,590.7 1396.8,582.4 1400.3,590 1403.1,582.8 1404.6,586.2 1408.1,591.6 1410.7,592.8 1413.9,585.1 1417.5,575.9 1420,569.7 1422.8,567.7 1425.9,571.4 1428.5,573 1431.6,572 1434.2,571 1436,565.6 1438.5,560.7 1441.5,579.4 1445.2,564 1447.8,574.5 1450,569.7 1452.3,571.6 1454.6,574.6 1456.8,579 1458.9,571.3 1461.6,565.2 1465.5,563.5 1467.6,567 1470.4,567.2 1473,558.4 1475.8,559.4 1478.5,564.7 1481.4,553.2 1484.6,546.1 1487.6,550.8 1490.2,550.8 1493,548.1 1495.7,548.4 1498.3,538.6 1500.6,539.4 1503.5,543.6 1505.1,537.1 1508.6,554.4 1511.5,541.5 1513.9,535 1516.2,539.1 1519,541.8 1521.5,549.7 1524.8,554 1527.2,553.7 1529.3,553.7 1532.7,563.2 1535,559.1 1537.7,560.4 1540,559.7 1542.9,555.1 1545.7,552.3 1548.8,550.2 1550.8,545.2 1553.6,546.7 1555.5,555.7 1558,567.4 1560.1,570.1 1564,559.3 1566.9,562.9 1569.2,556.9 1572,553.6 1574.4,555.3 1578.3,566.6 1581,567.4 1583.6,569.7 1586.8,569.6 1588.4,567.1 1591.5,563.3 1593.9,568.4 1596.7,556.5 1599.2,568.8 1601.5,570.4 1604.3,573.8 1606.6,568.3 1609,575.5 1612.6,580.7 1614.6,578 1617.7,585.5 1619.5,576.7 1622.8,588.2 1625,587.7 1628.5,587.1 1630.7,574.5 1634.3,577.8 1636.9,577 1639.8,579.8 1642.8,581.9 1645.1,584.6 1648,585.4 1650.9,584 1653.8,588.3 1657,585.4 1659.1,592.4 1662.8,592.2 1665.2,597.9 1667.7,600.9 1670,597.4 1673,598 1675.8,594 1677.9,594.2 1680.6,596.8 1683.9,596.4 1686.5,598.9 1689,599.7"/>
<polyline stroke="#FF0000" points="205.2,635 205.2,614 206.8,624.6 212,623.5 217.2,608 219.3,608.3 222.3,603.8 225,601.1 227.6,618 230.7,609 233.1,600.9 236.5,609.2 239.2,606.2 241.5,598.1 244.2,611.2 247.2,609.7 249.4,610.2 252.6,612.1 254.6,604.4 257,615.9 259.9,606 263.5,599.9 265.3,614.5 268.3,609.9 270.7,618 274.3,615.6 277.1,600.3 279.3,610.4 281.8,611.6 285.1,613 287,611.7 290.7,613.2 293.1,606.1 295.2,615.1 299,613.4 301.3,615 303.7,611.8 306.9,616.3 309.9,608.6 311.6,611.2 314.8,616.2 317.4,612.8 319.9,615.9 323,613.8 324.9,611.7 327.6,613 330.4,624.1 334.2,610.5 335.7,616.7 339.6,617.5 341.4,622.9 344.1,611.2 346.9,605.3 349.8,615.9 351.8,613.6 355.7,615 357.3,618.5 360.9,612.1 363.5,610.6 365.5,616.7 369,609.8 372.1,615.6 374.8,608.9 377,608.6 378.8,613.5 381.7,613 384.4,609 387.1,611.9 390.3,621.1 392.7,617.1 395.5,612.5 398.8,619.5 401.1,616 404.3,610.1 406,617.7 409.6,621.2 412.4,620.3 415.1,624.5 417.6,621.6 419.6,621.1 422.5,613.8 425.6,619.3 428.4,621.8 430.2,616.4 433.6,618.9 435.9,616.3 439.6,615.5 442.1,619.3 445.2,616 447.8,613.7 449.2,623.5 452,619.5 455.2,619.2 458.1,616.4 460.9,613.2 463,613.4 465.9,619.9 468.1,609 471.5,628.9 474.2,620.3 476.8,614.1 480.3,616.9 482.7,621.3 485.1,624.2 487.9,620 490.8,624.2 493.8,628.4 495.3,623.4 498.2,623.1 501.8,619.5 503.9,621 506.7,618.3 509.2,619.5 512.3,618.6 515.5,630 517.2,616.8 519.7,622.7 522.4,629.7 525.7,614.1 528.1,619.1 531.4,623.3 533.2,621.7 536.7,625.8 539.8,626.9 542.4,626.6 544.6,634.7 547.5,626.3 550.3,621.1 553.3,626.1 555.1,620.7 557.4,621.5 561.1,623.8 563.2,629.4 565.8,624.5 568.5,635.8 571.8,627.2 574.2,630.9 577.1,627.1 580.4,631.4 582.9,627.7 585.1,619.6 588.6,628.9 591,617.5 593.7,620.9 595.5,619.6 598.9,625.6 601.3,633.9 603.6,632.4 606.3,627.3 608.7,623.6 612.2,628 614.3,625.5 617.2,628.2 620.7,627.8 623,626.8 625.1,628.1 629,629.2 630.8,637.4 633.9,627.6 637.2,629 638.6,628.1 641.4,628.9 645,619 646.9,631.3 649.9,634.5 652.5,628.9 655.1,633.6 658.7,626.9 660.4,635.9 664,635.7 666.9,623.1 669,632.3 672.4,630.8 674,624.2 676.9,631.7 679.9,628.2 682.8,638.9 685.6,627.2 687.8,631.5 690.7,629.2 693.6,631.8 695.7,637.6 699.1,634.9 701.5,628.8 704.8,638.7 707,633.5 710.1,633.8 712.2,636.6 715,628.1 717.7,632.5 720,641.4 723.3,641.4 726.4,638.9 728.7,636.8 731.8,631.2 733.3,640.4 737.2,639.6 739.3,643.2 742.1,638.9 745.1,638.2 746.9,634.9 749.4,642.5 753.2,643.7 754.9,643.2 757.9,636.8 761,646.4 763.9,642.3 767.1,643.3 769,643.1 772.6,643.3 774,644 777.6,646.7 779.6,648 782.6,638.4 786.1,641.2 788.3,645 791.8,647 794.3,654.1 796.3,640.9 799.3,645.7 802.2,647.1 805,650.4 807.5,646.9 810.8,648.1 813.6,650.8 815.5,644.8 819,653.3 820.9,647 824.4,654.8 827.1,641.4 829.2,643 831.7,646.6 834.5,640.4 837.5,644.7 839.6,641 843,633.3 844.9,645.8 847.9,643.1 851.1,640.6 853.6,649.3 856.7,632.3 858.1,641.1 861,637.7 863.7,644.9 866.4,637.4 869.4,634.8 872.1,635.7 873.5,637.9 876.7,634.2 878.9,640.2 881.2,637.3 883.7,639 886.9,643.6 889.8,639.5 892.6,646.5 895.1,654.7 897.8,643.8 899.7,647 902.5,654.8 904.7,651.9 908.1,649.3 910.6,654.4 912.9,648.1 915.7,655.5 918.9,648.4 921.1,650.6 923.8,650.6 926.9,656.1 930.3,654 932.8,653 935.3,647.3 937.3,660.2 941,652.1 942.8,653.5 945.8,664.4 947.8,655.7 950.9,653.9 953.2,655.8 956.8,658.6 959.2,649.2 962.1,654.1 964.1,659 967.1,662.8 968.8,657.5 971.7,657.7 974.5,659.4 977,654.6 980,654.1 983.1,651.2 985,662.6 988.3,654.4 989.9,659.9 992.3,660.1 996,654.6 998.7,662.2 1001.7,658.3 1004.4,661.9 1005.9,667.2 1009.5,656.8 1011.4,656 1014.6,661.6 1017.6,666.2 1020.5,663.7 1022.8,656.8 1025.5,664.6 1028.1,662.1 1030.8,667.9 1032.4,658.8 1036,660.4 1038.8,668.1 1041,665.1 1043.1,670.2 1046.5,657.5 1049,670.1 1051.2,672.8 1054.3,661.1 1057.2,660 1059.1,661.3 1062.1,664.4 1065,673.4 1067.2,656.3 1070.1,663 1072.7,662.1 1076,661.8 1078.1,662.9 1080.5,663.3 1083.7,661.2 1086.2,661.7 1089.5,655.6 1091.3,662 1093.6,661.1 1096.7,662.3 1099.9,651.5 1101.4,655.9 1104.9,661.7 1107.2,653.6 1109.9,663.1 1112.7,658.5 1115,657.1 1118,664.3 1121.4,652.4 1124,663.6 1126.6,653.7 1128.7,652.5 1132,659.8 1134.9,650.8 1136.4,653.2 1140.4,659.3 1142.8,653.1 1145.6,654.8 1147.4,653.3 1150.6,650.5 1153.1,650.1 1156.4,660.3 1158.6,660.9 1161.9,661.7 1164.3,666.6 1168.1,658.4 1170.7,662.1 1173.6,661.3 1176,659 1179,665.9 1180.9,658.7 1183.6,674.8 1186.5,666 1189,661.9 1191.4,670.8 1193.9,668.3 1197.9,668.4 1199.9,657.2 1202.9,660.3 1205,667.3 1207.7,676.9 1210.5,669.4 1213.1,675.9 1215.8,672.8 1217.9,661.8 1220.4,670.2 1224,664.9 1226.9,655.5 1229,656 1231.4,666.2 1234.8,668.2 1237.5,663.7 1239.9,663.1 1243.1,655.1 1245,666.4 1248,662.2 1250.2,660.4 1253.5,660.1 1255.9,659.2 1258.4,661.3 1261.4,666.2 1264.4,663.6 1266.4,659.9 1269.4,653.4 1271.6,668.2 1274,670.7 1276.5,663.8 1279.7,659.7 1282.3,659.3 1283.8,657.2 1286.6,657.4 1288.4,664.5 1291.2,675.8 1293.3,677.1 1296.8,677.5 1300.1,677.3 1302.8,678 1305.1,679.8 1307.4,680 1309.3,681.5 1311.4,685.3 1314.3,689.2 1316.2,695.9 1319,705.4 1320.9,717.2 1323.5,733 1325.1,744.6 1328,765.3 1330,764.1 1332.3,766.7 1335,765.3 1337.8,768.2 1339.7,772.2 1342,764.3 1344.3,756 1346.1,748.8 1348.5,738.7 1351.2,728.4 1353.9,729.7 1355.8,729.6 1358.4,725 1360.8,720.4 1362.7,717 1365.1,713 1368.2,708.1 1372,700.7 1376,697.7 1378.2,698.5 1381.3,696.6 1384.2,693.2 1387.6,700.7 1390,696.6 1393.3,693.6 1396.3,686.3 1399,686.4 1401,687.7 1404.3,679.3 1406.8,677.5 1409.6,682.4 1412,680 1415.2,679.4 1417.6,681 1420.6,668.1 1423.8,669.5 1426.8,668.9 1429.1,670.5 1432.5,674 1435.4,673.4 1438.3,679.2 1440.1,675.4 1442.3,670.9 1445.2,664.3 1447.6,669 1450.2,673.6 1452,677 1454.3,677.5 1458.1,670.2 1461.2,669.1 1464,662.5 1466,661.2 1469.2,656.5 1470.7,653.7 1473.9,657.2 1477.2,645.8 1478.8,653.4 1481.6,651.2 1484.4,647.8 1487.1,641.8 1490,651.5 1492.2,645.5 1494.7,636.7 1497.1,654.4 1500.5,641.6 1501.8,644.6 1505.2,643.4 1507.5,645.8 1509.9,648.9 1512.5,649 1516.1,653.7 1519,659.7 1521.9,653.8 1523.6,660.7 1527.2,659.2 1528.8,650.9 1532,648.4 1534,645.2 1537.4,639.3 1539.7,644.7 1542,643.5 1545.2,647.4 1548.6,653.7 1551,652.6 1553.6,655 1555.5,653.5 1558.9,651.6 1561.8,646.4 1564.5,661.6 1566.6,649.8 1569.3,652.6 1571.6,655.5 1574.8,658.7 1577.3,652.8 1580.1,658.9 1582.9,658.9 1584.9,664 1587.7,663.2 1589.8,649.2 1592.8,657.4 1594.8,661.6 1597.7,667.2 1599.7,671.2 1601.6,677.9 1604.3,673.2 1608.1,679.3 1610.2,681.9 1612.9,681.3 1615.2,680.2 1617,678.4 1620.7,674.9 1622.8,682.7 1625.5,680.3 1627.2,676.4 1629.7,678 1633.1,683.5 1635.7,686.9 1639,692 1641.9,690.2 1644.7,693.3 1647.4,697.2 1649.1,696.8 1651.2,696.4 1654.6,686.7 1657.6,700.3 1659.7,696 1662.2,696.1 1666.5,694.8 1669,694.2 1672.6,699.1 1675.8,698.1 1678,700.7 1681.2,700.2 1682.8,697.8 1686.5,699.9 1689,696"/>
<polyline stroke="#E06000" points="205.2,708.8 205.2,692 206.8,697.3 212,702.5 217.2,700.5 219.9,701.5 222.4,703.6 225.7,696.2 228.6,696.2 230.6,693.5 232.8,699.7 236.9,695.2 238.2,702.3 242.3,698.5 244.4,696.3 246.7,703.3 249.4,702.8 252.5,706.2 255.8,693.7 258.1,697.3 261,706.8 263.7,697.8 265.3,696.3 269.3,710 272,705.2 274.5,696.5 276.5,706.8 279.4,698.9 282,708.9 285.4,700.9 288.1,703.2 290.5,700.5 292.7,701.5 295.5,704.7 298.8,701.3 301.2,707.7 303,702.2 306.1,701.6 309.6,706 312.1,699.9 314,699.3 317.8,705.2 320.2,698.4 323.1,699.2 325.4,706.1 328.8,699.5 330.7,705.2 334.2,701.7 336.1,695.5 339.5,704.1 341.7,697.8 344.3,698 347.4,701.9 350.4,707.3 351.9,703.4 354.7,702 358.5,705.9 360.6,702.5 362.5,697.4 365.8,703.6 368.6,705.3 370.6,699.1 374,708.2 376.3,694.6 379.4,711.1 381.7,697.8 384.7,715.9 387.9,703.4 389.8,705.5 393.3,703.3 395.9,701.4 398.1,714.1 401.1,704 403.8,707.7 406.1,695.4 409.8,695.7 412.5,701.2 414.7,704.5 417.5,707.1 419.3,703.9 423.3,715.8 425.4,706.4 427.4,706.6 430.5,700.9 433,704.5 435.7,709.7 438.5,699.5 440.8,706.3 444.6,705.9 446.5,716.8 449.4,709.8 451.9,711.8 454.4,710.7 458.3,704 460.6,707 462.5,706.5 465.2,705 469.3,709.9 471.4,701 474.1,713.6 476.6,710.1 479.2,712.6 482.4,706.3 484.1,709.3 487.9,712.3 490.3,709.2 493.6,710.1 496.3,715.8 498.5,706.3 500.5,710.2 503.5,704.9 506.9,714.9 508.5,708 512.3,707.4 514.6,702.8 516.7,715.9 519.9,714.7 522.2,709 525.3,708.7 527.6,711 530.7,702.8 533.1,717.9 536.2,704.2 538.8,717.9 541.9,706.7 544.1,719.7 547,712.2 549.4,717.4 552.9,707.7 555.7,703.9 557.2,713.3 560.8,713.7 563.8,710.3 565.2,713.4 568.8,711.3 571.4,711.3 574.1,708.5 576.9,707.8 579.3,706.9 581.5,713.2 584.7,713.7 587.5,712 590,710 592.5,709.2 596.2,707.1 598.3,712.3 600.3,711.9 604,716.3 606,713.7 609.7,720.2 612.5,718.4 614.3,709.1 616.7,717.6 620,712 623,703 625,721.5 628.2,728.4 630,714.3 632.2,721.7 635.4,714 638.4,718 640.3,719.2 642.9,717.6 646,715.8 648.3,705.6 651.1,710.7 653.6,722.8 656.6,719.1 658.9,726.3 660.7,735.5 663.2,729.8 665.9,734.6 669,732.7 671.9,725 674.7,736.2 676.6,725 679,726.7 682.8,730.5 685.1,732.6 688.3,724.9 690.4,721.1 692.8,715.8 695,730.3 697.9,723 701.7,724.3 703.7,724.8 707,717.5 709.6,719.1 711.5,726.2 714.2,714.2 717.8,707.2 720.5,719.7 723.4,710.7 725.1,707 728,717.4 730.6,718.9 733.7,709 736.9,718.8 738.6,715.8 742,716.5 744.9,722.9 747.6,721.5 749.9,728.8 752.7,733.1 755,740.8 757.8,726 760,733.2 762.5,733.6 765.8,724.9 768.1,720.6 771.1,724.8 773,726.2 776,721.2 778.3,718 780.9,724.8 783.6,717.3 786.8,718.6 789.3,718.5 791,731.3 794.5,723.7 796.5,733 798.9,727.8 801.9,728.6 805.4,727.5 807.5,726.2 810.1,726 812.5,725 814.9,729.8 818.5,722.9 820.5,723 823.4,729.5 826.7,716.4 828.2,718.4 830.9,719.4 834,726.6 836.3,726.3 839.4,723 842,721.5 844.5,724.1 847,723.2 850.1,729.6 853.6,734.2 855.5,736.5 858.8,722.9 861.4,738.6 864.5,734.7 866.4,726.6 869.4,732 871.7,736.4 874.7,732.7 876.7,734.6 879.5,730.5 881.7,735.4 884.2,735.4 887.3,731.8 888.8,731.7 892.1,734 895.1,736.3 896.7,735.1 899.7,735.8 902.8,740.8 905.5,736.3 907.7,744.8 909.4,741.5 912,739.3 914.8,735.4 917.3,739.4 920.8,737.1 922.8,736 925.3,743.4 927.5,735.1 930,742.7 932.9,743.2 936.1,739.1 938,748.7 941.3,744.7 943.4,743.9 945.8,742.7 948.5,737.9 950.2,735.1 953,746.2 956.7,746.5 958.7,746.5 960.7,742.8 963.7,751.3 966.7,753 968.9,749.2 971.1,748.2 974.2,751.7 978,752.2 980.4,755 983.2,750.3 987,744.6 989.5,747.9 992.2,749 995.3,748.4 998.1,747 1000,753.9 1003,752 1006,757.7 1008.3,761.1 1011.6,749.9 1013.7,756.5 1015.7,757.7 1019,755.7 1021.7,758.9 1024,753 1026.8,755.4 1029.4,763.8 1031.7,751.9 1034.2,752.3 1037.6,759.5 1041,763.1 1042.6,745.7 1045.7,749.5 1048.7,758.5 1051.6,756.9 1053.6,765.9 1057.6,774.3 1060.4,755 1062.8,767.5 1065.3,767.6 1068,759.9 1072,749 1074.2,746.9 1077,744.1 1079.4,750 1082.1,745.9 1085.7,742.6 1087.4,750.1 1090,740.2 1093.3,744.9 1095.3,745.7 1098.2,748 1100.4,749.4 1103,757.4 1106.5,765.7 1108.3,759.1 1110.9,761.5 1113.7,763.4 1117.2,767.9 1119.3,772 1122.3,765.8 1124.6,763.4 1127.3,758.5 1130,760.1 1133.1,755.2 1135.6,751.2 1138.3,752.2 1141.7,749.3 1144.5,760.2 1147,742.9 1150.1,749.3 1152.5,757.4 1155,758.5 1158.1,756.2 1159.9,756.5 1164,759.8 1166.6,762.5 1168.7,766.5 1171.7,771.9 1174.6,767.8 1178.2,767.8 1180.6,771.8 1183.3,773.1 1185.3,773.9 1189.1,769.4 1191.1,770.9 1194,755.7 1196.4,767 1198.8,766.6 1201.2,764 1204.6,765.5 1206.6,753.8 1209.6,761 1212.8,754 1214.1,762 1217.5,762.2 1220.2,753.5 1222.6,759.9 1224.9,760.2 1228.6,770.3 1231,768.5 1233.6,776.3 1236.2,775.8 1238.7,775.5 1241.2,764.9 1243.3,768.7 1245.8,773.2 1249.2,766.7 1251.2,767.5 1254.8,762.5 1256.7,771.3 1258.7,760.5 1261.3,763 1264.2,766.8 1267.1,765.8 1269.4,771.6 1271.4,764.2 1274.5,765.1 1277.7,775.5 1279.7,769.7 1282.7,774.5 1285.5,773.4 1287.4,775.8 1290.1,771 1292.6,775.7 1294.7,786.5 1298,779 1301.5,786.8 1303.2,791.4 1307.3,799.2 1309.7,804.5 1311.7,813.4 1314.3,825.2 1317.1,832.2 1319.4,838.3 1321.2,843.7 1323.5,854.6 1325.8,864.4 1329.3,873.6 1331.6,879.4 1334.5,859.4 1336.2,848.3 1339.7,853 1343.3,845.5 1345.1,839.7 1349.1,831.8 1351.2,827.6 1354,826.4 1357,825.2 1360.4,809 1362.6,805.5 1365.7,803.6 1368.3,798.7 1372,795.3 1374.6,793.8 1377.6,787 1379.9,786.7 1382.8,794.7 1384.4,785.7 1387.6,779.8 1389.6,775.5 1393.1,786.9 1395.7,780.2 1398.4,774.9 1400.7,771 1402.6,781.7 1406,772.2 1409.2,781.7 1411.5,780.7 1413.2,773.7 1416.8,785.5 1418.7,787.2 1421.1,787.3 1423.7,778.7 1426.2,782.2 1429.6,774.2 1432.1,775.9 1435.4,768.4 1437.7,772.1 1439.7,770.5 1443,763 1445.3,767.3 1447.9,772.1 1449.9,775.7 1452.5,771.5 1455.5,768.7 1458,763.1 1461,758.1 1462.9,754.6 1466,749.2 1469.5,761.8 1471.5,759.4 1474.4,747.9 1477.9,749.6 1480,743 1483.2,744 1485.6,738.8 1488.5,740.3 1490.7,746.4 1493.7,749.2 1496.4,744.5 1499,740.8 1501.7,738.8 1504.5,746 1506.5,733.9 1509.6,746.9 1512.3,750.6 1513.7,747.2 1516.7,748.5 1519.5,749.6 1522.1,745.8 1525.1,742.8 1527.7,743.6 1530.5,740.8 1533.5,736.1 1536.3,738.1 1538,738.2 1541,744 1542.7,750.5 1545.5,742.6 1549,732.9 1550.9,741.4 1553.6,738.8 1555.3,741.2 1558.3,746 1560.5,749.2 1562.5,745.9 1565,742.2 1568,747.1 1571,750.9 1572.8,746.8 1576,762.9 1579,760.7 1582.4,754.6 1584.7,750.3 1588.1,756.9 1590.1,760.5 1592.8,765.3 1595.1,764.1 1597.8,767.9 1600.8,761.2 1602.4,760.7 1605.3,757.9 1607.8,759.5 1609.9,765.1 1613.5,774.5 1615.3,770.8 1618,765.3 1620.1,770.1 1623.1,776.3 1626,783.7 1628.4,779.2 1631,783 1633.5,776.4 1636,774.1 1639,772.2 1642.1,775.2 1644.3,769.1 1646,772.8 1649.7,766.6 1651.6,766.5 1653.7,771.6 1656.9,779.3 1659.7,787.2 1662,781.2 1665.5,778.1 1667.8,776.1 1670.3,770.5 1672.4,775.7 1675.3,767.5 1678,765.3 1680.3,770.9 1682.7,776.8 1686.7,772.6 1689,770"/>
<polyline stroke="#FFD21E" points="204.6,791.7 204.6,765.7 206.8,782.4 208.9,773 211,783.4 214,784.4 217.2,789.6 220.2,792.3 223.3,791.3 224.8,792.8 228.4,792.1 230.2,788.2 233.6,783.6 235.9,783.4 239.4,792.6 242.2,787.8 244.2,793.6 247.6,796.1 250,793.2 253,796.9 255.4,796.7 258,796.3 261.1,796.5 263.4,792.1 265.2,789.6 267.9,795.6 271.6,798.9 274.7,793.5 276.8,800.1 279,787.9 281.9,797.1 284.3,799.9 287.7,789.2 290.5,790.8 292.6,803.3 295.2,790.2 297.7,802.3 301,798.6 303.8,797.7 307.2,797.4 308.5,801.8 311.2,802.3 314,795.3 317.8,806.5 320.7,800.6 322.5,802.9 325,799.8 328.4,813.2 330.4,811.8 333,813.4 336.5,801.5 339.1,799.9 341.3,802.4 345,806.4 347.3,808.9 350.5,805.7 352.9,809.7 355.4,800.1 358.4,806.2 360.3,807 362.7,803.7 365.7,805.9 368.9,810.7 371.5,807.6 374.4,807.8 377.5,811.7 379.5,811.2 381.5,806.3 385.2,811.5 387.2,811.6 389.9,806.8 393.6,813.3 395.9,810.8 398.2,811.9 401.3,816 404.4,815.9 406,816.6 409,819.7 412.4,817.7 414.1,817.8 417.1,812 420.4,807 422.6,814.1 424.9,813.7 428.8,818.3 431,809.4 433.1,807.9 436.4,816.6 439.3,811.8 442.1,814.5 445.2,818 446.8,821.3 449.5,812.9 453.2,825.3 454.8,824 457.3,821.6 459.9,813.2 462.7,822.9 465.3,815.7 469.2,824.3 472.2,819.7 473.5,819 476.3,823.2 480.2,818.9 481.7,821.3 484.4,825.2 487.1,816.8 489.9,827.1 493.2,819.9 496.1,819.3 499.2,828.2 501.8,822.4 503.6,829.7 506.1,828.1 509.5,828.3 512,830.8 514.6,820.3 518,824.4 520.2,827.2 523.3,827.2 525.7,826.8 528.4,831.2 530.6,827.3 533.7,828.5 536.7,831.9 539.5,824.9 542,828.5 544.4,834.6 547.5,833.5 550.5,826.9 552.7,837.9 555.6,833.9 557.6,828.9 560.9,825.7 563.4,824.3 566.6,832.9 569.2,827.3 571.1,835.2 574.4,835.7 576.8,823.9 580.3,828.4 582.1,834.7 585.3,830 587.9,834.8 591.1,832 592.9,835.8 595.9,832.4 598.6,836.1 601.2,829.8 603.6,830.2 606.9,845.7 609,841.8 612.3,832.5 615.3,843.3 617.4,848 620.7,842 623,848.2 626.1,836.8 627.4,846.7 630.2,840.3 633.3,831.8 635.2,837.2 638.3,833 640.8,832.1 644,834.8 646,836.6 649.3,832 650.5,839 653.2,843.5 656.2,830.9 658.7,834.7 661.5,839.3 664.6,839.9 666.4,840.2 669,841.1 671.4,848.3 674.1,842.6 676.8,849.5 679.4,837.8 682.3,840.6 684.2,847.2 686.5,842.7 689.4,844.3 692,841.4 695.5,834 697.8,836.7 701.1,831.6 703.7,827.6 706.7,835.8 710.2,830 712.4,839.8 715.3,839 718.4,839.5 720,829.6 723.6,844.6 726,834.3 728.7,832.6 731.1,838.7 734.7,837.3 736.5,840.2 739,842.6 742.9,839.2 744.7,834.1 748.3,840.3 749.9,838.8 754,845.9 756.2,838.1 758,847.3 761.4,838 763.4,844.8 766.1,839.8 768.9,830.9 771.1,837.6 774.6,834.8 776.8,842.1 778.8,831.6 781.4,834.8 784.4,835.9 786.5,839.5 788.9,841 791.6,837.8 795,829.1 797.1,837.5 799.6,829.2 802.3,836.8 804.3,834.3 807.5,836.8 810.1,837.2 813.2,840.6 815.7,840.1 819,841.4 821.3,842.5 824.4,842.1 826.7,830.4 828.7,841.6 831.8,837.1 834.8,825.3 837,826.4 840.1,827.1 842,824.9 844.8,827.3 847.1,827.9 849,840 852.4,836.7 854.1,832.6 857.1,834.8 859.7,831.5 862.2,845.2 865,837 867.4,840 870,836.4 873.1,841.1 876.1,852.3 878.3,842.8 881.3,841.1 884.3,847.4 887,843.3 888.9,848.5 892.1,837.7 895.1,834.1 897.4,840.5 900.5,841 903.5,850.4 905.4,844.9 907.9,848.8 911.2,852 913.8,862.1 917,858.7 919.7,848.1 921.5,851.7 924.7,850.9 926.7,852.4 929.1,849.9 932,852.9 935.2,858.7 938.5,860.9 940.6,860.4 943.5,866.7 946.5,867.7 948.9,867 951.4,873.5 954.6,876.3 956.3,880.8 959.7,878.7 962,877 964.6,874.8 967.6,876.2 970.5,881.7 973.3,870.9 976,871.1 978,880.6 980.3,878.4 983.2,878 987,872 990.1,870.7 992.3,873 994.5,876.9 996.9,882.7 1000,882 1002,881.8 1004.9,885.4 1007.7,886.3 1010.3,888.1 1012.6,894.7 1016.3,886.7 1018.4,888.6 1022,881.1 1023.8,881.3 1026.2,883.9 1029.2,884.1 1032.5,877 1035.7,882 1038.6,870.2 1040.4,871.5 1043.6,873.5 1047,872.5 1049,876.9 1051.6,880.3 1054.2,879.6 1057.1,886 1058.6,884.4 1062.3,874.9 1063.8,879.5 1066.3,889.6 1069.8,876.7 1072,884 1074.6,878.5 1077.1,881.3 1080.6,876.5 1083.7,872.5 1085.8,867.6 1088.8,873.7 1092.1,865.2 1095.2,869.5 1097.9,874.1 1099.2,872.1 1102.6,875.4 1105.1,868.9 1108,861.8 1111.2,870.5 1113.2,873.9 1115.4,879 1118.6,885.6 1120.4,889 1123,894.4 1125.2,888.5 1129.4,878.1 1132,871.4 1134.5,871.5 1138.1,879.7 1141.4,885.2 1144.7,888 1146.2,890.8 1149.5,879.4 1151.7,879.6 1154.2,884.4 1157.4,892.3 1160,885.5 1162,884.1 1165.7,900.1 1167.4,892.4 1170.8,896.7 1173.8,889.9 1176,895.4 1179.4,893.5 1180.7,900.3 1184.6,889.7 1186.1,887.5 1189.9,896.9 1192.6,889.6 1194,897.3 1197.5,898.7 1199.2,889 1202.7,885.6 1205.3,890.6 1208.3,885.9 1210.5,889.8 1213.8,887.9 1216.5,884.5 1218.3,883.2 1222,880.6 1224.4,884.6 1228.1,890.6 1231.3,895.6 1234.3,891.5 1237,897.4 1239.1,890.6 1241.2,885.7 1244.6,875.4 1247.5,877.6 1250.1,871.2 1252,870.2 1254.3,876.8 1257.3,885.1 1259,889.8 1262.1,885.1 1264.6,888.3 1266.6,882.8 1270.2,878.7 1272.8,879.4 1276.2,881.3 1277.9,882.2 1280.7,884.7 1284.3,889.8 1286.4,899.4 1289,911.6 1291.2,922 1293.5,926.8 1295.8,931.3 1298.7,950 1300.5,962.4 1302.8,977.4 1306,1007.6 1308.5,1030.4 1311.6,1038.8 1314.8,1046.6 1318.5,1041.5 1321.2,1039.7 1323.9,1029.1 1325.7,1021.9 1328,1012 1330.4,1005.5 1333.1,998.5 1335,993.5 1337.8,982.3 1339.7,975 1342,968.1 1344.1,961.7 1346.6,954.4 1349.7,954.9 1352.6,953.1 1355.2,954.3 1358,949.7 1360.7,939.3 1362.7,931.3 1366.5,926.9 1369,922 1372.6,924.1 1375,929 1376.9,925.6 1380.7,917.6 1382.1,915 1385.3,908.2 1388.2,914 1390.3,918.3 1393.4,924.4 1396,919.9 1398.9,915.1 1401.5,917.3 1404.5,920.2 1407.6,917.1 1410.2,911.8 1412.3,913.3 1415.3,906 1417.2,901.5 1420.7,895.6 1423.2,891 1425.6,885.2 1427.4,890.8 1430.1,898.2 1432.6,906 1435.4,908.4 1438.4,892.8 1440.9,901.1 1444.2,901.6 1447.8,882.7 1449.9,887.8 1452.8,889.6 1456,889.3 1459.1,891.5 1461.4,888 1464.7,881.8 1466.9,889.2 1470.1,881.6 1471.8,887.1 1475.2,883.4 1478,880.4 1481.1,876.5 1483.1,873.8 1487,867.2 1489,864.4 1492.3,867.8 1494.6,872.8 1497,873.7 1500.5,865.2 1502.9,859.8 1504.9,861.5 1507.5,860.4 1510.2,862.6 1513.1,870.8 1515.6,868 1517.3,864.4 1519.6,859.6 1522.5,853 1525.9,859 1527.9,861.1 1530.5,865.6 1533.8,858.6 1535.7,861.7 1538.4,862.3 1542,862 1544.6,866.5 1546.8,870 1550,876 1553.6,858.7 1556.3,865.1 1557.7,870 1560.5,877 1562.8,876.4 1565.6,871.7 1567.4,871.4 1569.5,869.6 1573.9,878.8 1575.5,878.4 1579,884 1580.9,886.5 1583.5,890.2 1585.9,886.6 1589.1,891.1 1591.6,895.6 1593.5,891.8 1596.2,886.4 1598.6,881.7 1602.2,891.4 1604.3,896.7 1607.7,897.1 1609.7,896.8 1612.2,901.8 1615.3,902.1 1618,904.8 1621,911.8 1623.9,917.4 1626.2,922 1628.7,920.2 1630.8,919.4 1634.2,916.2 1636.6,917.5 1639,921.9 1642,927.3 1643.9,930.2 1646.3,935.2 1649.3,940.5 1651.7,934.2 1655.9,922.9 1658.5,916.3 1661.6,914.2 1664.9,925.9 1667,921.8 1670.1,930.3 1673.3,931.1 1675.8,931.5 1678.6,934.2 1680.5,934.1 1684.1,928.1 1687,922.5 1689,924.4"/>
<polyline stroke="#C8A000" points="205.2,951.8 205.2,913.3 206.8,944.5 208.9,943.5 211,955 213,963.2 216.2,952.8 217.5,964 230,975 232.1,973.4 234.7,979.1 238.6,976.7 240.5,984.1 243.5,979.5 245.4,975.7 249,980.1 251.6,975.9 253.4,984.2 256.1,984.2 259,981.8 262.2,984.3 263.6,990.3 267,995.6 269.5,990.6 271.5,987.6 274.1,992.4 276.7,988.8 280,981.8 282.3,991.5 285.9,991.9 287.5,988.1 290,997.6 292.6,991.5 296.2,992.7 298.9,993.8 301.2,995.8 303.1,992.9 306.2,996.7 308.6,1002.8 311.6,1002.9 313.6,1003 317.1,988.3 319.7,994.1 321.8,1009.4 324.1,995.6 327.1,1001.2 330,999.8 332.6,995.9 334.7,997.2 337.8,1000.8 341.4,999.7 342.7,1011.3 346.4,993.5 349.3,995.4 351.4,1007.2 353.7,1007.1 356.5,1007.7 358.9,1016.8 361.7,1010.5 364.7,1001.5 367,1003.4 369.9,1003.8 372.7,998.7 376.3,1002.8 378.4,1000.8 381.4,1006.8 384.4,1016.1 386,1008.9 389.5,1010 392.4,1012.8 394.5,1000.1 397.5,1006 399.6,1007.9 404,1013.2 406.6,1018.5 409,1021 411,1016.6 413.8,1021.7 416.9,1018 419.7,1018.7 421.7,1016.5 424.5,1012.3 427.8,1023.9 430.9,1017.2 433.4,1025.4 435.2,1010.1 438.6,1015.4 441.6,1022.6 443.6,1016.4 445.8,1010.7 449,1018.2 451.1,1015.6 454.8,1017.6 457.2,1017.4 460.1,1014.2 462,1013.9 464.8,1019.8 467.5,1012 469.4,1009.7 472.5,1015.2 476.1,1021.5 478,1015.3 481.4,1018.6 484,1019.1 487.3,1024.2 489.7,1024.5 492.2,1022.9 494.9,1020.9 499.1,1014.2 501.2,1008.4 504.1,1012.7 507.3,1013.3 510.7,1020.3 512.8,1020 515.4,1021.4 517.6,1017.4 520.9,1018 522.4,1026.8 525.3,1023.7 527.7,1017.2 530.8,1024.1 532.5,1026.3 535.8,1022 538.9,1023.8 542.2,1025.3 544.6,1030.6 547.4,1033.7 550.5,1037.7 552.5,1029.7 555.8,1025.1 558.9,1024.5 561.7,1026.2 564.6,1032.9 567.5,1036.3 570.4,1039.5 573,1036.4 576.2,1034.3 578.2,1028.6 581,1039 584.1,1031 587.4,1039.6 590,1033.7 592.7,1037.3 594.4,1036.7 597,1036.9 600,1035 602.2,1033.6 604.6,1047.2 607.6,1038.9 609.9,1035.4 612.4,1047.7 615.7,1042.7 618.3,1045.8 620.4,1034 623,1038.3 626.2,1038.5 628.5,1041.8 630,1040.4 633.3,1043.7 636.4,1039.5 638.6,1027.7 640.5,1039.5 643.7,1037.4 646,1034.9 649,1031.1 652,1048.2 654.5,1033 656.3,1039.7 659.8,1034.6 661.7,1037 665.2,1042.9 668,1043.4 669.6,1041.6 672.9,1036 675.2,1042.1 677.9,1046.8 680.7,1034.4 683.3,1044.4 685.7,1032.1 687.7,1033.5 691.3,1043.6 694.1,1037.3 696.7,1046.2 698.1,1039.2 701.4,1037.1 703.7,1037.5 705.6,1038.8 708.6,1042.1 711.3,1043.8 713.9,1045 716.1,1042.4 719.6,1041.8 721.1,1042.8 724.8,1053.9 726.8,1042.3 729.8,1041.9 732.1,1046.7 734.6,1048.8 737.3,1045.7 739.4,1043.9 743.2,1053.6 745.3,1054.6 748.7,1059.1 750.6,1047.5 753.7,1050.4 756.5,1044.5 759.3,1057 761.4,1061.4 763.4,1053.1 767.2,1047.1 769,1047.2 772.1,1057.5 774.1,1058.6 777.2,1062.2 779.8,1058 783.5,1049.9 785.6,1045.1 788.8,1040.3 791.4,1035 793.4,1038.7 797.1,1047.1 799.4,1042.6 801.8,1047.6 804.8,1044.4 807.5,1038.6 809.9,1044.5 812.7,1048.5 814.6,1043.9 818.2,1043.1 820.6,1046.4 822.5,1040.5 824.9,1051.1 827.5,1047.3 830.5,1043.7 833.5,1041.4 835.2,1039.1 838.3,1043.6 840.7,1041.3 843.7,1044.3 845.3,1044 848.8,1051.8 851.5,1048.7 853.6,1040.5 856.3,1046.5 858.3,1047.9 861.1,1051.4 863.2,1044.4 865.8,1051.4 868.5,1045.9 872.3,1040.8 873.5,1049.6 876.7,1046.6 879.2,1051 881.5,1055.2 884.7,1060.4 886.9,1056.1 889.9,1048.6 892.8,1042 895.8,1039.6 898.1,1051.9 900.1,1044.7 902.8,1047.8 905.3,1058.3 908.6,1057 911.2,1051 914,1050.3 915.8,1056.1 919.4,1058.7 920.7,1054.5 924.3,1063.3 926.8,1062.7 929.4,1051.4 931.9,1052 934.3,1056.5 936.8,1064.6 939.9,1065.9 941.4,1060.4 943.8,1062.8 946.7,1066.8 949.6,1066.6 952.2,1074.2 955.3,1069.1 957.3,1069 960.9,1074.2 962.6,1068.6 965.7,1063.6 968.9,1063.4 971.4,1065.3 974.4,1057.8 976.4,1061.1 980,1064 982.7,1062.8 985.1,1055.9 987,1054 989.1,1056.1 992.1,1056.9 995.4,1062.4 998.7,1062.4 1000.7,1068.5 1003.5,1072.2 1005.6,1069.3 1009.3,1077.9 1012.1,1064.8 1015.1,1060.9 1017.6,1065.2 1019.9,1063.8 1023.2,1055.7 1026,1057.6 1027.9,1058.4 1030.6,1060.8 1033.8,1061.3 1035.9,1064.4 1038.3,1059.6 1041.3,1073 1044.3,1071.1 1045.8,1055.8 1049,1059.6 1051.9,1057.1 1054.5,1057.3 1057.4,1058.3 1059.3,1046.9 1062.8,1052.4 1064.4,1058.1 1067.6,1049.2 1069.9,1055.9 1073.7,1061.5 1075.6,1057.5 1078.6,1064.8 1081.4,1065 1083.9,1060.4 1086.7,1055.7 1090.7,1048.2 1093,1044.3 1095.1,1047.2 1098.4,1048.5 1101.2,1045.4 1104.6,1047.5 1107.3,1050.3 1109.8,1054.8 1112.1,1055 1115,1057.5 1118.3,1049.8 1120.6,1049.5 1123.5,1049.6 1125.6,1048.3 1128.7,1048.9 1132.3,1046.6 1135.1,1039.3 1137,1033.6 1140.5,1038.5 1142.5,1035 1145,1052.6 1147,1067.3 1149.7,1061.5 1152.8,1057.4 1155,1060.6 1158.3,1056.4 1159.9,1059.7 1163.2,1056.9 1166.1,1049.6 1168.6,1047 1171.4,1045.5 1174.1,1047.2 1176.9,1057.8 1180.1,1055.8 1181.4,1044 1185.5,1061.8 1187.5,1058 1189.9,1063 1192.9,1067.4 1196.7,1074.2 1199.6,1068.6 1202.2,1069.4 1204.6,1066.4 1207.8,1067.5 1210.5,1062.7 1212.6,1064.4 1215.7,1050.9 1217.7,1061.4 1220.8,1051 1223.6,1049.9 1226.5,1053.5 1229.1,1042.7 1230.7,1054.5 1233.6,1038 1235.8,1039.1 1239.3,1043.7 1241,1041.6 1244.2,1038.7 1247.1,1045.2 1249.8,1044 1252.1,1046.5 1255.5,1041.2 1257.1,1035.4 1260.7,1049 1263.2,1050.8 1265.9,1044.3 1267.7,1047.8 1270.7,1053.6 1272.8,1058 1275,1061.8 1278.5,1050.5 1281.2,1057.7 1284.2,1054 1286.6,1058 1289.2,1063.9 1291.6,1070 1293.5,1075.4 1297,1096 1299.3,1126 1302.8,1151.4 1304.5,1159.2 1307.4,1172.2 1309.7,1166.4 1311.6,1167.5 1314.3,1173.3 1317.1,1168.6 1320,1164 1323.5,1159.6 1325.8,1157.2 1327.5,1149.1 1330.4,1135.3 1334.1,1126.2 1336.2,1121.5 1339,1116.6 1340.8,1113.4 1343.7,1112.5 1345.4,1110.6 1347.7,1110 1350.2,1100.4 1352.3,1092.6 1355.2,1100.6 1357,1105.3 1359.4,1100.5 1362.4,1095.9 1365,1091.5 1368,1088.2 1370.7,1080.1 1374.2,1078.8 1376.3,1077.2 1379.2,1077.3 1381.9,1079.9 1384.2,1075.4 1386.5,1075.4 1390,1084.6 1392.2,1083.2 1395.7,1079.7 1398.4,1078.4 1401.4,1073 1403.2,1067.5 1406,1058 1408.5,1061.7 1412.3,1068.3 1415.3,1072 1418,1063.3 1420.3,1067.8 1422.8,1069.8 1425.7,1057.6 1428,1060.4 1431.4,1073 1434.2,1071.3 1436,1073.1 1438.3,1073 1441,1066.1 1443.9,1059.3 1446.4,1053.5 1449.4,1058.5 1452.6,1063.6 1455.6,1067.3 1458.2,1059 1461.4,1048.5 1464.6,1048.8 1466.2,1043.4 1470.4,1049.3 1473,1047.8 1475.2,1048.9 1477.5,1043.2 1479.4,1037.3 1482,1030.4 1485.2,1038.2 1487.8,1036.6 1490.4,1032.5 1493.3,1031.5 1495.4,1030 1498.3,1039.7 1501.3,1033.9 1505.1,1028.5 1507.5,1027 1510.3,1029.9 1511.8,1035 1514.4,1036.2 1517.8,1029.3 1519.9,1042.2 1522,1036.6 1525.6,1033.9 1527.4,1042.4 1530.5,1039.7 1533.6,1044.8 1536.3,1050 1539.2,1049.1 1541.5,1046.5 1544.3,1039.8 1546.6,1040.4 1550,1039.7 1552.5,1044 1556.1,1049.7 1558.2,1053.5 1561.5,1050.3 1563.9,1049.8 1567.4,1047 1569.5,1053.4 1572.5,1063 1575.4,1061 1577.5,1055.5 1580.1,1057.4 1582.3,1067.2 1585,1064.5 1588.2,1054.6 1591.8,1062.3 1594,1067.3 1596.2,1069.5 1599.4,1067.6 1602,1062.7 1605.5,1073 1608.4,1066.7 1611.2,1060.4 1613.5,1061.2 1617.3,1059.7 1620.2,1067.9 1622.8,1067.3 1624.6,1072.4 1627.4,1080 1630.3,1082.8 1633,1086.9 1635.2,1083.9 1637.8,1079.9 1641.2,1074.2 1643.2,1082.1 1645.8,1092.6 1647.7,1087.4 1650.4,1080 1652.8,1084.8 1656.3,1092.2 1659.7,1099.6 1663.6,1098 1665.1,1097.4 1668.9,1097.3 1671.5,1102.3 1673.5,1106.5 1675.8,1102.8 1678.5,1098.5 1680.4,1096 1683,1097.5 1686.8,1093.8 1689,1096"/>
<polyline stroke="#806000" points="205.2,995.7 207.3,1029 213,1047.5 220,1041.8 226.9,1059 228.6,1061.8 232,1067.2 233.8,1068.3 237.1,1067 239.3,1059.2 242.2,1061.8 244.8,1063.6 246.7,1056.7 250,1057.1 252.2,1054.5 253.9,1057.6 256.9,1063.7 260,1060.8 261.5,1057.4 265,1060.6 267.1,1054.1 269.5,1052 271.6,1057.4 274,1063.7 276.1,1060.4 279.8,1057.4 282,1051 284.5,1049.9 287.9,1053.3 289.5,1056.6 293.9,1067.5 296,1066 298.7,1066.6 301.8,1062 304.9,1060.7 307.6,1056.8 309.9,1063.5 313.3,1072.9 315.7,1069.2 319.2,1062.8 321.4,1059 324.8,1066.5 327.6,1073.9 330.6,1079.8 333.3,1076.3 337.1,1072.3 339.9,1068.3 342.3,1075.3 344.8,1065.9 346.7,1067.7 350.1,1064.8 352.8,1064 354.8,1063.7 356.9,1067 359.8,1071.6 362.3,1075.9 365.2,1079.8 367.6,1076.8 370.4,1071.7 373.8,1072.1 376.5,1068.9 378.5,1066 382.5,1061.9 384.8,1069.5 387.2,1069.2 389.4,1074.5 392.6,1079.2 394.6,1082.2 397.1,1085.4 399.8,1090.2 403.5,1090.7 405.1,1082.7 409.2,1080.1 411.3,1075.2 414.8,1089 417.1,1090.2 419.6,1088.8 422.6,1089.5 425.2,1075.6 427.9,1082.7 429.8,1081.8 432.3,1084.6 434.7,1088.5 437.6,1092.5 440.2,1086.9 443.9,1086.2 446.7,1091 448.6,1098.1 452,1099.5 454,1104 456,1094.5 459.2,1101.7 461.6,1090.5 464.5,1099.5 466.6,1088.3 469.8,1101.3 471.8,1093.4 474.3,1090.6 477,1090.2 480,1094.6 481.7,1098.6 485.1,1101.8 487.4,1107.1 489.7,1106.3 492.4,1099 494.3,1093.7 496.3,1094.5 499.4,1097.1 502.6,1102.2 504.9,1100.5 508.2,1108.6 510.3,1105.4 513.5,1097.9 516.2,1093.7 518.9,1102.2 521.1,1109.5 523,1115.6 525.2,1110.5 528.2,1120 531.4,1114.3 533.4,1110.5 535.2,1111.6 538.9,1099.6 541.2,1102.3 543.2,1102.7 546.2,1098.3 549,1105.6 551.6,1111.5 554.3,1119 557,1113.3 559.3,1108.5 561.2,1105.2 563.8,1109.5 566.6,1105.6 568.8,1114.7 572.1,1113.9 574.8,1116.5 577.2,1128.9 579.6,1121.3 582,1120.4 585.1,1115.4 587.8,1115.6 590,1115.6 593.2,1114.2 596.3,1110.8 598,1106.6 601.5,1107.6 604.4,1113.2 607.9,1118.6 610.1,1123.3 613,1129.5 615.6,1117.7 618.6,1123.8 622,1120 624.7,1116.9 626.7,1110.7 630.3,1112.6 633.3,1111.7 635.2,1120.3 637.9,1118.9 640.6,1126.5 643.2,1125.6 646.5,1128.7 649.3,1130.1 652.3,1128 654.1,1132.6 656.9,1123.9 660,1125.2 662.8,1130.3 666,1123.8 668.7,1123.7 671.4,1128.4 674.7,1125.5 677,1131.6 680,1135.3 683.5,1139.8 685.3,1139.2 689.3,1138.4 691.4,1137.6 694.3,1132.7 697.1,1131.8 700.5,1123.7 701.9,1121.5 705.3,1120.3 707.9,1125.1 709.9,1129.1 713.2,1134.6 715.6,1140 717.9,1144.3 720.2,1137 722.6,1141.8 725.1,1139.5 728.3,1141 731.6,1136.4 735,1132.7 737.6,1127.2 741,1125.3 742.9,1131.4 746.1,1132.6 748.8,1142.2 751.4,1140 754.2,1134.3 756.3,1129.3 758.3,1126 760.7,1131.7 763.6,1138.5 765.6,1144.5 768.7,1150.7 771,1156 774.1,1149.6 775.7,1144.6 779,1137.6 782.3,1132.2 784.8,1136.9 787,1131.4 790.6,1136.5 792.4,1138.9 795.5,1140.4 797.5,1142.2 801.2,1142.9 804.4,1137.8 806.7,1138.8 809.7,1140 812.2,1140.2 814.8,1141.8 817.1,1143 820.5,1145.7 823,1147.6 825.5,1149.1 827.8,1155 831,1157.2 834.5,1156.5 836.7,1151.3 840.1,1145.7 842.5,1144.5 845.2,1150.9 848.2,1158.4 851.4,1153.5 853.6,1165.7 856.4,1154.8 859.4,1165.7 862.3,1163.3 864.3,1162.1 867.4,1157.3 869.4,1159.2 873.1,1154.4 875.1,1153.1 878.2,1151.4 880.9,1159.9 882.8,1166.4 885.5,1158.3 889.6,1157.6 892,1153.7 893.8,1158.6 896.9,1158.9 899,1164 901.5,1157.6 903.5,1152.6 906.9,1155.9 908.8,1153.8 911.8,1165.8 914.6,1156.2 917.2,1164.7 919.9,1163.5 922,1171.2 924.8,1171.7 926.8,1165.4 930.1,1174.9 931.9,1168.4 935.2,1176.6 938.1,1173.5 940.4,1176.8 942.5,1172.6 945.1,1167.5 947.3,1163 950.6,1167.3 952.5,1171.7 955.5,1175.1 958.9,1181.4 961.4,1180.6 965.3,1174.6 967.2,1168.7 970.4,1165.3 974,1173.8 977.4,1182.9 979.6,1188.3 982.5,1184.6 984.4,1181.7 987.7,1178.3 990,1175.6 993.8,1172.2 996.6,1180.9 999.7,1172.9 1001.5,1178.6 1004.2,1177.4 1007.7,1187.7 1011.2,1182.5 1013.4,1183.2 1015.4,1178.3 1019.2,1177.3 1021.5,1175.6 1024,1180.2 1027.3,1187.1 1029.6,1191.8 1033.2,1188.6 1034.9,1179.2 1038.6,1177.8 1041,1176.8 1043.9,1177.4 1047.4,1184.5 1050,1187.6 1053.1,1186.7 1055.3,1192.7 1058.4,1200.1 1060.7,1191.1 1064.6,1184 1066.2,1181.4 1069.3,1177.6 1072.2,1172.2 1074.5,1176.7 1078,1184.7 1080.1,1190 1082.2,1192.9 1085,1198.7 1087.6,1194.2 1090.3,1195 1092.5,1194.1 1095.2,1179.5 1097.6,1180.3 1100.3,1181.5 1102.9,1186.1 1105.4,1190 1107.9,1193.1 1110.7,1191.7 1113.6,1191 1115.3,1205.7 1118.7,1197 1120.6,1202 1123.7,1192 1126.4,1183.7 1130.1,1186.4 1131.4,1191.8 1135.1,1199.1 1138,1201 1140,1197.1 1142.5,1192.6 1145,1188.3 1147.7,1184.9 1150.6,1180.3 1154.1,1189.6 1156.4,1195.2 1159.5,1186.9 1160.7,1189.3 1163.7,1188 1166,1195.1 1168.6,1190.9 1171.4,1188.3 1174.3,1192 1177.8,1197 1180.6,1202 1182.5,1197.4 1185,1191.8 1188,1197.3 1191,1201.2 1193,1204.5 1196.7,1196.4 1200.4,1209.6 1202.5,1217 1204.6,1211.2 1207.7,1203 1210.5,1195.2 1212.4,1196 1216.3,1199 1218,1205.5 1221,1210 1223.3,1203.7 1226.9,1194.5 1229,1189.5 1231.9,1192.8 1234.2,1193.9 1237.8,1202.1 1239.7,1195.7 1242.8,1199.3 1246,1202 1247.8,1197.8 1249.9,1203.9 1253.3,1197.1 1255,1198.7 1257.8,1198.7 1260.6,1207.8 1262.4,1213.7 1264.8,1214.2 1267.4,1216.4 1269.3,1216 1272.8,1246 1276.3,1289.8 1278.6,1326.7 1280.9,1377.4 1284.3,1428 1287.8,1395.8 1291.2,1365.8 1294.7,1355.5 1298.2,1362.4 1300.1,1356.4 1302.8,1347.4 1305,1333.6 1307.7,1326.2 1310.8,1317.4 1314.3,1294.4 1317.9,1281.1 1320,1272.5 1322.1,1268.2 1325.8,1259.8 1327.8,1254.9 1330.4,1248.3 1333.8,1250.1 1336.2,1251.7 1339.7,1241.4 1341.7,1237.5 1344.9,1234.1 1346.6,1233.3 1348.3,1234.2 1351.2,1240.2 1353.4,1238.1 1355.7,1233.9 1358,1232 1361.1,1228.5 1363.6,1230.5 1366.9,1229.8 1370.1,1224.7 1372.5,1220.9 1376,1213.7 1378.3,1217.8 1382.8,1227.3 1385.3,1232 1387.2,1227.8 1389.8,1220.8 1392.2,1214.8 1394.9,1219.4 1397.3,1224.2 1399,1226.4 1400.7,1222.8 1403.7,1216 1406.6,1217.2 1409.5,1221.8 1411.7,1216.8 1415.3,1208 1418.2,1205.6 1421.2,1203.5 1423.3,1200 1425.6,1199.9 1428.2,1197.1 1431.4,1195.2 1433.3,1195.9 1435.8,1189.5 1438.3,1188.3 1440.8,1192.5 1443,1195.6 1446.4,1201 1448.6,1196.5 1451.7,1189.4 1454.5,1183.7 1457.3,1188 1459.8,1188.4 1463.7,1195.2 1466.2,1189 1467.9,1184.7 1470.6,1178 1473.6,1179.6 1476,1172.5 1478.6,1183.1 1481.1,1174 1484.4,1176.8 1486.3,1172.5 1488.7,1168.2 1491.4,1163 1494.8,1174.5 1496.8,1170.8 1499.4,1165.3 1501.8,1172.9 1503.4,1178 1506.3,1187.2 1508.8,1184.1 1512.4,1183.8 1514.4,1181.4 1516.7,1174.4 1519.1,1167.7 1521.3,1161.8 1524.6,1169.8 1527,1175.6 1529.1,1178.6 1531.8,1179.1 1535,1182.6 1536.8,1187.4 1540.1,1193.8 1542,1198.7 1544.2,1194 1546.8,1187.6 1549,1182.6 1551,1187 1553.4,1191.2 1555.9,1196.4 1557.9,1196.1 1561.5,1198.7 1563.7,1201.1 1567,1200.5 1569.3,1195.9 1572,1195.2 1573.7,1198.1 1576.8,1203.8 1579,1208 1581.4,1204.2 1584.6,1202.7 1588.2,1199.9 1590.1,1205.7 1592.8,1212.6 1595,1218.3 1597,1218 1599.3,1215.6 1602,1212.5 1604.4,1217.1 1606.6,1221.2 1609,1223 1612.4,1216 1614.8,1220.7 1616.4,1223.6 1619.3,1229.8 1622.3,1227.1 1624.7,1221.6 1627.4,1218.3 1629.5,1224.3 1632,1232 1634.1,1228.1 1637.7,1221.8 1640.1,1230.7 1642.4,1239 1645.2,1231.4 1648,1223 1650.7,1224.6 1653.8,1232.6 1657.3,1234.4 1660.8,1232.8 1663,1232 1665.7,1239.4 1667.7,1244.8 1670.7,1244.2 1672.7,1241.9 1675.2,1242.5 1678,1241.3 1679.5,1243.4 1682.7,1241.4 1685,1229.8 1689,1228.7"/>
<polyline stroke="#88BB00" points="205.2,1264.6 205.2,1227.7 207.3,1246 212,1271.5 220,1286.5 226.9,1275 230.2,1280.3 232.7,1284 235.8,1282.9 237.9,1288 240.1,1284.7 243,1290.6 245.3,1285.3 248.4,1292.4 251,1298 254,1295.1 255.7,1294.4 258,1290.5 261.4,1285.2 263.8,1285.3 266.1,1292.4 269.5,1303.7 272.3,1297.8 274.4,1300.9 276.6,1292.8 279.4,1295.5 282.2,1292.2 285.8,1299.4 288,1303.7 290,1300.7 292.7,1295.9 296,1291 298.8,1292.1 301.5,1292.2 303.9,1297.7 306.8,1300.8 309.9,1305 312.2,1305.7 315.7,1306 318.5,1301.7 321.3,1296.9 323.4,1293.2 326,1288.8 328.7,1289.2 331.9,1289.9 333.9,1286.6 336.4,1286.5 339.5,1286.2 341,1288.7 344.3,1297.4 346.3,1293.1 349.3,1291.1 351.4,1294.5 353.8,1290.8 357,1286.5 358.8,1292.8 361.8,1303.7 364.8,1308.6 366.6,1303.1 369.1,1304.9 371.5,1310 374.4,1313 377,1306.8 380.2,1299 383.7,1309.5 386.4,1302.2 390.1,1297.8 391.6,1299.4 395.2,1294.5 397.5,1299.7 399.2,1303.1 402,1309.5 404.6,1308.7 406.7,1309.8 410.1,1303.2 411.9,1310.3 414.7,1309.4 418.5,1313.5 420.5,1310.9 423.7,1313.3 426,1311.9 428.7,1308.9 432.1,1307.6 434.4,1308.7 437.7,1317.7 439.4,1314.8 443.4,1322.7 444.7,1316 448.2,1323.9 450.2,1324.9 454,1314 455.8,1320.8 459,1317.4 460.9,1311.7 464.4,1316.6 466.7,1314 470.3,1319 473.7,1324.7 475.9,1328 479.5,1329.1 482.1,1331.7 485,1330.3 487.7,1327 492,1327.5 494.3,1323.3 496.9,1323.8 500.6,1326.1 502.4,1322.1 505.2,1323 509.1,1320 511.6,1322.2 515,1340.6 517.7,1339.3 520.5,1340.1 523.4,1341.1 525.4,1340.6 527.4,1339 530.2,1335.3 533.5,1330.3 536.3,1332.9 538.6,1331.6 542.5,1337.6 545,1337.2 547.4,1330.6 549.7,1324.5 552,1329.6 556,1337.8 557.6,1341.2 561.2,1348.7 563.6,1344.2 567.4,1342.5 570.4,1334.4 572.7,1334.9 575.1,1341.1 577,1345.1 579.6,1351 581.8,1349.5 584.8,1343.9 587.3,1346.7 590,1345.5 592.2,1342.6 594.3,1340 597,1337 599.1,1339.9 601.9,1344.8 603.8,1347.4 605.6,1344.2 608.7,1339.3 610.7,1335.9 613.2,1340 616.2,1345.9 619.7,1349.8 622,1353.6 624.6,1360.5 628.1,1350.1 630.4,1357.1 632.8,1347.5 636.7,1345.3 639.3,1345.9 641.9,1339.3 645.3,1344.8 646.8,1345.2 650,1350.9 653,1354.3 655.9,1347.8 658.7,1344 661,1348.8 663.8,1339.5 666,1343.7 668,1354.7 671.1,1343 674.2,1342.4 676.4,1351.5 679.8,1351.9 682.3,1355.5 684.5,1357.8 686.9,1354.5 690.9,1351.8 693.1,1348.9 696,1344 698.7,1344.9 701.4,1341.6 704.6,1345.9 706.2,1338.4 709,1335.4 712.2,1341.6 714.6,1349.2 718.1,1360 720.3,1367 722.4,1361.3 726,1352 728.5,1355.7 731.3,1360.5 735.2,1367 736.9,1363.5 739.4,1357.9 742,1352 745.4,1357.7 748.4,1356.7 751.4,1363.5 754.8,1358.3 757.5,1353.9 759.5,1350.9 761.6,1358.6 764,1367 767.1,1361.5 769.9,1359.8 772.8,1357.9 775.6,1350.9 777.8,1354.3 781.4,1358.5 783.5,1355.8 785.5,1354.5 788.3,1360 791,1360.9 794,1365.8 796.9,1363.1 799.2,1361.4 802,1367 804.8,1362 808.3,1356.8 811.3,1352 813.7,1358.4 817,1367 818.8,1369.6 822.3,1369.2 824.1,1365.3 827,1358.5 830,1354.4 832,1354.3 835.4,1353.4 838.5,1355.7 841.1,1358.7 843.6,1362.4 846.3,1365.6 849.2,1367.4 851.6,1375.1 853.2,1374.7 856.3,1375 858.8,1373.6 862.3,1366.9 865.5,1363.5 868.4,1367.7 870.4,1373.6 873.6,1375 876.4,1373.4 879.9,1368.1 882.8,1367 886,1372.7 888,1371.9 891.9,1375.7 894.3,1379.7 897.4,1374.9 899.6,1381.2 902.9,1378.2 905.5,1377.8 908,1377.4 910.4,1381.9 912.8,1386.6 915.4,1383.9 917.2,1385.7 919.7,1383 921.8,1379 925.7,1372.2 927.7,1368 930.8,1376 933.5,1383 937.4,1387.6 939.5,1392.1 942.7,1393.5 945.3,1391.9 949.2,1390.9 951,1391.7 954.3,1387.8 956.6,1391.6 960,1397 963.6,1391.5 965.7,1392.4 969.3,1390 973,1395 976,1398 979.6,1386.6 981.9,1388.6 984.9,1392.7 987,1395.8 989.1,1393.2 991.1,1388.5 993.8,1386.6 996.1,1391.2 999.1,1395.4 1002,1400.4 1004.5,1399.4 1006.8,1395.8 1008.8,1391.2 1011.3,1393.9 1014,1393.9 1016,1394.9 1019,1395.9 1021.5,1398 1023.8,1397.4 1026.8,1391 1030.7,1389 1033.1,1397.7 1036.5,1409.7 1039.2,1408 1041.4,1402.8 1044.6,1402.5 1046.9,1400.4 1048.9,1396.9 1052.3,1392.2 1055,1387.8 1057.1,1395.1 1060.7,1407.3 1063,1407.7 1065.7,1403.4 1069.2,1395.4 1072.2,1394.7 1074.9,1390 1078,1389.6 1081.4,1386.6 1084.2,1388.2 1086.2,1390.3 1088.7,1388.6 1091.9,1398.8 1094.1,1392.3 1097,1400.4 1100,1401.6 1102.2,1401.2 1105.6,1396.2 1108,1393.5 1110.4,1398 1113.8,1404 1116.7,1405.8 1119.9,1399.4 1122.7,1401.9 1124.6,1402.8 1127.7,1398.4 1128.8,1406.4 1131.1,1400.9 1134.6,1392.6 1136.9,1403 1139.4,1397.5 1142.7,1390.3 1145.2,1396.8 1147.8,1392.9 1151.4,1403.5 1153.5,1408.4 1156.5,1407.6 1159.9,1406.1 1162.8,1403.8 1164.4,1404.7 1168,1401.8 1170.4,1407.2 1174.8,1408.8 1177.2,1414.5 1180.7,1406.4 1182.6,1411.1 1185.3,1418 1188,1414.8 1191,1410 1194.9,1416.3 1196.3,1416.2 1200.3,1421.4 1202.9,1416.2 1204.3,1412.9 1207.2,1407.6 1210.6,1404.7 1213,1404 1215.3,1413.3 1218.7,1404 1221.2,1408.4 1224.5,1413.3 1226.8,1408.7 1229.5,1416.2 1231.4,1421.4 1234.2,1421 1236,1420.3 1238.3,1418.9 1241.9,1416.9 1244,1415.6 1246.4,1426 1249.5,1423.8 1252.2,1421.4 1254.6,1426.3 1258,1434 1260.8,1432 1262.5,1429.5 1264.5,1432.4 1267,1436.4 1270.6,1458.3 1273,1479 1274.5,1518.2 1276.4,1550.5 1277.5,1587.4 1279.4,1617.4 1281,1640.4 1283.3,1645 1285,1638 1286.7,1612.8 1288.6,1587.4 1291.4,1573.6 1293.9,1572.7 1296.4,1571.3 1299.4,1562 1302.4,1546 1304.9,1538 1307.5,1529.8 1310.3,1515.5 1312,1506.7 1314.2,1499.8 1317.9,1488.3 1321.3,1487 1324.8,1473.3 1327.2,1473.7 1330.5,1473.3 1332.8,1476.8 1335,1480.2 1337.4,1476.3 1339.8,1472 1342.9,1461.3 1345.5,1452.5 1349,1456 1352.4,1454.8 1356,1459.5 1359.4,1454.8 1361.7,1439.9 1364.3,1438.2 1366.3,1437.6 1368.9,1447 1370.9,1453.7 1374.1,1445.3 1376.7,1438.7 1380.1,1444.3 1382.4,1447.9 1385.8,1442.9 1388.2,1439.9 1390.6,1440.2 1394.4,1432.7 1397.4,1430.6 1400.9,1442.2 1403.5,1438.1 1407,1433 1410.4,1436.5 1413,1424.4 1415.4,1424.9 1419,1424.4 1422.5,1414 1426,1424.4 1427.7,1416.6 1430.3,1427.8 1433.8,1420.9 1436.3,1415.7 1439.2,1420.7 1441.5,1424.4 1443.4,1426.5 1446,1427.7 1448.4,1429.5 1450,1424.4 1452.6,1426.7 1454.5,1429.5 1457,1413 1459.8,1413 1462.5,1413.2 1464.8,1410.5 1466.4,1415.3 1469.2,1422.6 1471.7,1414.3 1473.5,1408.8 1476.7,1414.2 1478.7,1418.3 1480.4,1407 1482.8,1411.3 1484.7,1414.8 1487.5,1410.3 1490,1407 1491.6,1406.1 1494.3,1405.6 1496.8,1407 1499.5,1405.7 1502,1403.6 1504.7,1408.9 1507.9,1414.9 1509.8,1418.3 1513.5,1415.1 1515.9,1416.6 1519.3,1408 1521.9,1414 1525.1,1415.4 1527,1417.4 1529.6,1416.5 1531.4,1414.8 1533.2,1418 1535.7,1420.9 1538,1417.4 1541,1414.8 1544.4,1424.4 1547,1422.6 1549.7,1428.2 1551.3,1431.3 1554.2,1425.4 1556.5,1420.9 1560,1430.4 1562,1435.1 1565,1442.5 1567.8,1441.2 1569.5,1440 1572,1431.3 1574.3,1440.6 1576.4,1448.6 1579,1440 1580.8,1448.3 1583.3,1459.8 1585.5,1455.6 1589.3,1448.6 1591.5,1456.6 1593.7,1465 1596.3,1464 1598.7,1458.4 1602.3,1449.4 1604.4,1454 1607.5,1460.7 1610,1448.6 1613.6,1459.8 1616.3,1460.4 1617.9,1462.3 1620.5,1464 1622.2,1478 1624.2,1474.6 1627.7,1470.4 1630,1466.7 1631.9,1470.4 1634.8,1476.8 1637.8,1483 1640.9,1476.7 1643.8,1471 1646.3,1473 1648,1473.6 1649.9,1486.6 1652.7,1484.2 1654.2,1483 1656.7,1483.4 1658.5,1484 1660.2,1492.9 1662.8,1506.5 1664.6,1490 1667.9,1484.8 1669.8,1483 1671.6,1483.3 1674,1483 1676.7,1494.4 1678.8,1494.3 1680.7,1494.2 1683.6,1493.5 1686.5,1484.3 1688.8,1477"/>
</g>
<line x1="1334.8" y1="168.2" x2="1334.8" y2="1633.6" stroke="#000" stroke-width="2.4" stroke-dasharray="14.8 20.46"/>
<line x1="1334.8" y1="1626" x2="1334.8" y2="1633.6" stroke="#000" stroke-width="2.4"/>
<g class="lg">
<polygon fill="#000" points="218.2,189.6 609.9,189.6 622,201.7 622,1006.9 231.4,1006.9 218.2,993.7"/>
<rect x="222.3" y="193.6" width="386.1" height="799.1" fill="#fff"/>
<line x1="252" y1="249.9" x2="404.9" y2="249.9" stroke="#0000DD"/>
<text x="420" y="274.7" style="fill:#0000DD;stroke:#0000DD">40K</text>
<line x1="252" y1="325" x2="404.9" y2="325" stroke="#FF0080"/>
<text x="420" y="349.8" style="fill:#FF0080;stroke:#FF0080">30K</text>
<line x1="252" y1="400.2" x2="404.9" y2="400.2" stroke="#FF8C00"/>
<text x="420" y="425" style="fill:#FF8C00;stroke:#FF8C00">20K</text>
<line x1="252" y1="475.4" x2="404.9" y2="475.4" stroke="#008000"/>
<text x="420" y="500.2" style="fill:#008000;stroke:#008000">12K</text>
<line x1="259.6" y1="550.6" x2="412" y2="550.6" stroke="#FF0000"/>
<text x="427.5" y="575.4" style="fill:#FF0000;stroke:#FF0000">8K</text>
<line x1="259.6" y1="625.5" x2="412" y2="625.5" stroke="#E06000"/>
<text x="427.5" y="650.3" style="fill:#E06000;stroke:#E06000">6K</text>
<line x1="259.6" y1="700.5" x2="412" y2="700.5" stroke="#FFD21E"/>
<text x="427.5" y="725.3" style="fill:#FFD21E;stroke:#FFD21E">4K</text>
<line x1="259.6" y1="775.6" x2="412" y2="775.6" stroke="#C8A000"/>
<text x="427.5" y="800.4" style="fill:#C8A000;stroke:#C8A000">3K</text>
<line x1="259.6" y1="850.7" x2="412" y2="850.7" stroke="#806000"/>
<text x="427.5" y="875.5" style="fill:#806000;stroke:#806000">2K</text>
<line x1="256.3" y1="925.9" x2="409" y2="925.9" stroke="#88BB00"/>
<text x="424" y="950.7" style="fill:#88BB00;stroke:#88BB00">1.5K</text>
</g>
<g class="tt" font-size="88.5">
<text transform="translate(428.2 96.8) scale(1.14 1)">λ</text>
<text x="475" y="96.8">-(BETS)</text>
<text class="sb" x="780" y="138.2" font-size="52.5">2</text>
<text x="806" y="96.8">Fe</text>
<text class="sb" x="895.5" y="138.2" font-size="52.5">0.6</text>
<text x="960" y="96.8">Ga</text>
<text class="sb" x="1063.8" y="138.2" font-size="52.5">0.4</text>
<text x="1131" y="96.8">Cl</text>
<text class="sb" x="1213.5" y="138.2" font-size="52.5">4</text>
<text x="1245.5" y="96.8">,</text>
<text x="1284" y="96.8"><tspan class="i">B</tspan>//<tspan class="i">a</tspan>*</text>
</g>
<text transform="translate(106.4 1413.7) rotate(-90)" font-size="106" letter-spacing="0.3">Transmission (arb. units)</text>
<g class="xt">
<text x="188" y="1770.8">0</text>
<text x="438" y="1770.8">0.5</text>
<text x="690" y="1770.8">1</text>
<text x="942" y="1770.8">1.5</text>
<text x="1191" y="1770.8">2</text>
<text x="1440" y="1770.8">2.5</text>
<text x="1693" y="1770.8">3</text>
</g>
<text x="831" y="1880" font-size="106.3"><tspan class="i">B</tspan> (T)</text>
<text x="236.3" y="1589.5" font-size="88.5">64.5GHz</text>
</svg>
</body></html>
